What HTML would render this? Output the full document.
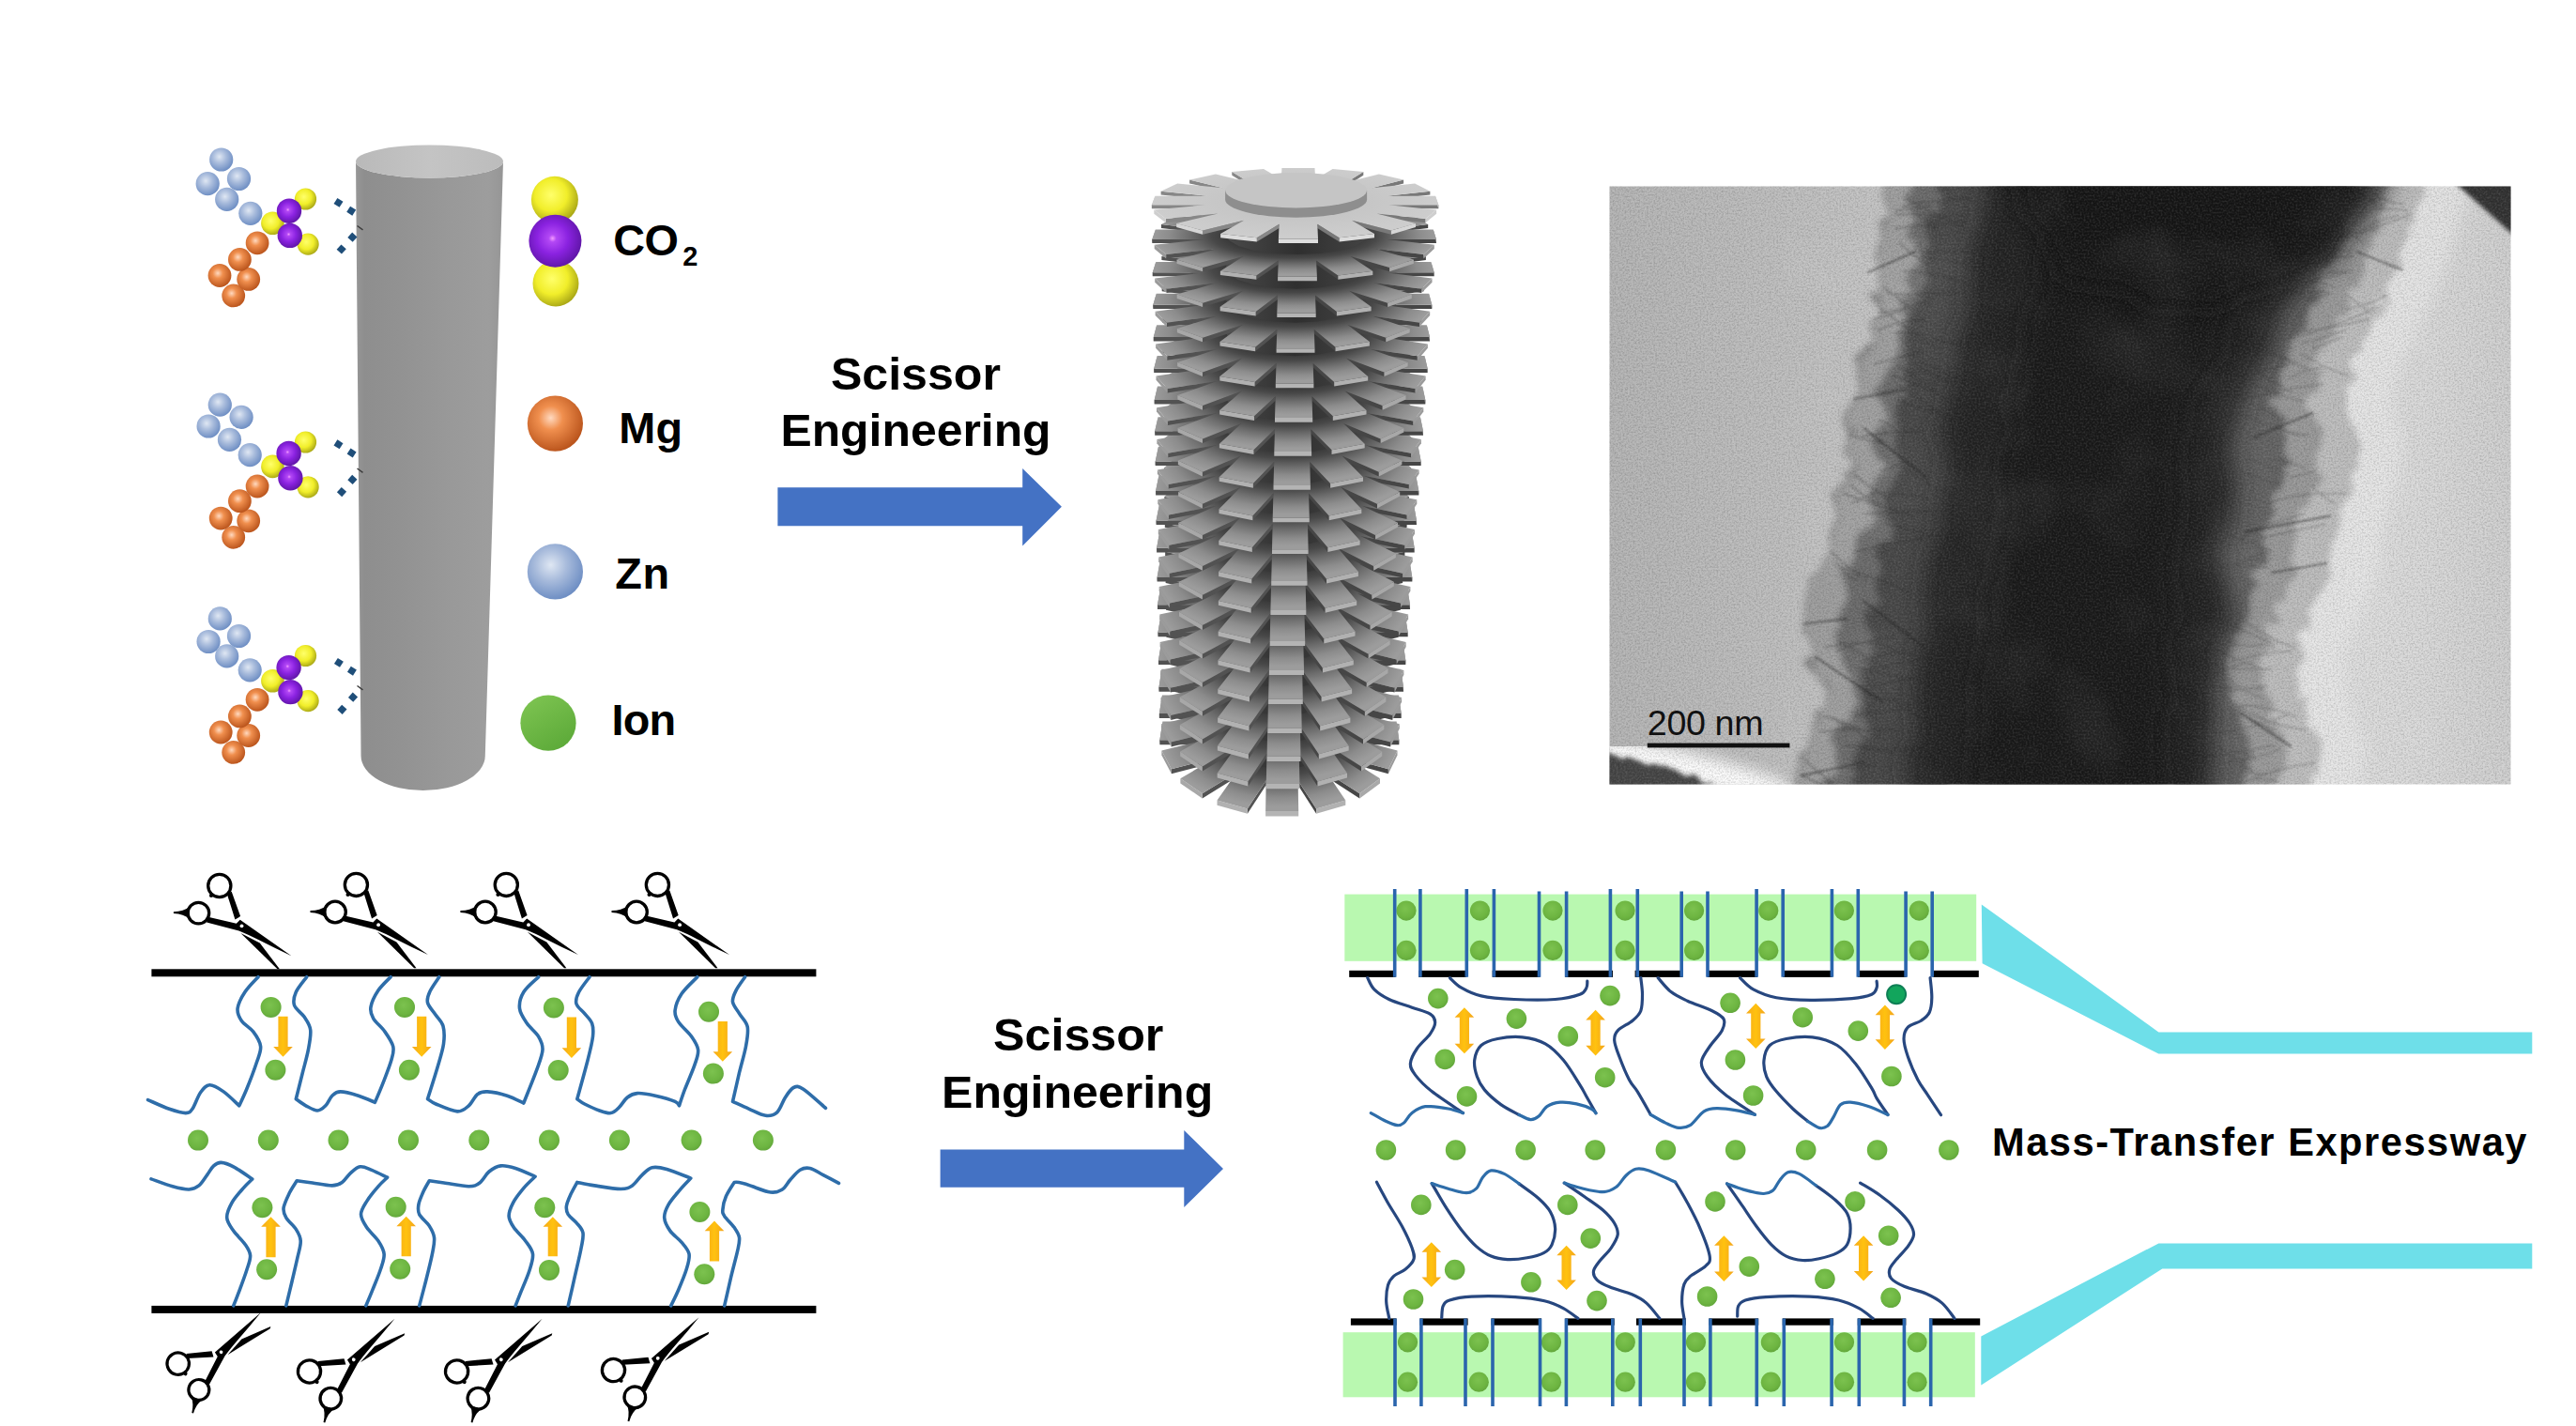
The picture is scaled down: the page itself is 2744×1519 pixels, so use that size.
<!DOCTYPE html>
<html><head><meta charset="utf-8"><title>Scissor Engineering</title>
<style>html,body{margin:0;padding:0;background:#fff}svg{display:block}</style></head>
<body>
<svg width="2744" height="1519" viewBox="0 0 2744 1519">
<defs>
<radialGradient id="gB" cx="0.42" cy="0.38" r="0.62"><stop offset="0" stop-color="#dfe7f3"/><stop offset="0.45" stop-color="#a9bcdc"/><stop offset="1" stop-color="#6f8fc4"/></radialGradient>
<radialGradient id="gO" cx="0.42" cy="0.40" r="0.62"><stop offset="0" stop-color="#ffd9bf"/><stop offset="0.35" stop-color="#f08f4e"/><stop offset="1" stop-color="#b9531b"/></radialGradient>
<radialGradient id="gY" cx="0.42" cy="0.40" r="0.62"><stop offset="0" stop-color="#ffff6a"/><stop offset="0.55" stop-color="#f1ee2a"/><stop offset="1" stop-color="#a9a716"/></radialGradient>
<radialGradient id="gP" cx="0.45" cy="0.45" r="0.6"><stop offset="0" stop-color="#f49bff"/><stop offset="0.12" stop-color="#b348f5"/><stop offset="0.5" stop-color="#8a22e0"/><stop offset="1" stop-color="#5a14a0"/></radialGradient>
<radialGradient id="gG" cx="0.45" cy="0.40" r="0.62"><stop offset="0" stop-color="#7cc24f"/><stop offset="0.7" stop-color="#6db541"/><stop offset="1" stop-color="#62a63b"/></radialGradient>
<linearGradient id="gGL" x1="0" y1="0" x2="0.6" y2="1"><stop offset="0" stop-color="#80c653"/><stop offset="1" stop-color="#5eab3a"/></linearGradient>
<linearGradient id="gAr" x1="0" y1="0" x2="1" y2="0"><stop offset="0" stop-color="#f6a91a"/><stop offset="0.5" stop-color="#ffc20f"/><stop offset="1" stop-color="#f3a31c"/></linearGradient>
<linearGradient id="gCyl" x1="0" y1="0" x2="1" y2="0"><stop offset="0" stop-color="#979797"/><stop offset="0.06" stop-color="#8e8e8e"/><stop offset="0.3" stop-color="#929292"/><stop offset="0.65" stop-color="#999999"/><stop offset="0.9" stop-color="#9d9d9d"/><stop offset="1" stop-color="#969696"/></linearGradient>
<linearGradient id="gCylTop" x1="0" y1="0" x2="1" y2="0"><stop offset="0" stop-color="#b9b9b9"/><stop offset="0.5" stop-color="#c4c4c4"/><stop offset="1" stop-color="#bcbcbc"/></linearGradient>


<radialGradient id="gFin" cx="0.5" cy="0.47" r="0.5"><stop offset="0.40" stop-color="#303030"/><stop offset="0.58" stop-color="#484848"/><stop offset="0.74" stop-color="#6e6e6e"/><stop offset="0.88" stop-color="#8c8c8c"/><stop offset="1" stop-color="#9c9c9c"/></radialGradient>
<radialGradient id="gFinTop" cx="0.5" cy="0.47" r="0.5"><stop offset="0.5" stop-color="#c6c6c6"/><stop offset="1" stop-color="#cdcdcd"/></radialGradient>
<linearGradient id="gCore" x1="0" y1="0" x2="1" y2="0"><stop offset="0" stop-color="#4a4a4a"/><stop offset="0.5" stop-color="#2f2f2f"/><stop offset="1" stop-color="#444"/></linearGradient>


<clipPath id="cTem"><rect x="1714.5" y="198.5" width="960" height="637"/></clipPath>
<linearGradient id="gTemBg" gradientUnits="userSpaceOnUse" x1="1714" y1="0" x2="2675" y2="0"><stop offset="0" stop-color="#b4b4b4"/><stop offset="0.22" stop-color="#bfbfbf"/><stop offset="0.78" stop-color="#dedede"/><stop offset="0.9" stop-color="#d9d9d9"/><stop offset="1" stop-color="#cfcfcf"/></linearGradient>
<filter id="fRough" x="-10%" y="-10%" width="120%" height="120%"><feTurbulence type="fractalNoise" baseFrequency="0.035" numOctaves="3" seed="7" result="n"/><feDisplacementMap in="SourceGraphic" in2="n" scale="34" xChannelSelector="R" yChannelSelector="G"/><feGaussianBlur stdDeviation="3.5"/></filter>
<filter id="fRough2" x="-10%" y="-10%" width="120%" height="120%"><feTurbulence type="fractalNoise" baseFrequency="0.05" numOctaves="3" seed="19" result="n"/><feDisplacementMap in="SourceGraphic" in2="n" scale="30" xChannelSelector="R" yChannelSelector="G"/><feGaussianBlur stdDeviation="3"/></filter>
<filter id="fRough3" x="-10%" y="-30%" width="120%" height="160%"><feTurbulence type="fractalNoise" baseFrequency="0.09" numOctaves="2" seed="2" result="n"/><feDisplacementMap in="SourceGraphic" in2="n" scale="9" xChannelSelector="R" yChannelSelector="G"/><feGaussianBlur stdDeviation="2.4"/></filter>
<filter id="fCore" x="-20%" y="-20%" width="140%" height="140%"><feTurbulence type="fractalNoise" baseFrequency="0.02" numOctaves="2" seed="3" result="n"/><feDisplacementMap in="SourceGraphic" in2="n" scale="40" xChannelSelector="R" yChannelSelector="G"/><feGaussianBlur stdDeviation="13"/></filter>
<filter id="fB8"><feGaussianBlur stdDeviation="8"/></filter>
<filter id="fB3"><feGaussianBlur stdDeviation="2.2"/></filter>
<filter id="fB1"><feGaussianBlur stdDeviation="0.9"/></filter>
<filter id="fGrain" x="0" y="0" width="100%" height="100%"><feTurbulence type="fractalNoise" baseFrequency="0.55" numOctaves="2" seed="11"/><feColorMatrix type="matrix" values="0 0 0 0 0  0 0 0 0 0  0 0 0 0 0  1.6 0 0 0 -0.62"/></filter>
<filter id="fGrainW" x="0" y="0" width="100%" height="100%"><feTurbulence type="fractalNoise" baseFrequency="0.5" numOctaves="2" seed="23"/><feColorMatrix type="matrix" values="0 0 0 0 1  0 0 0 0 1  0 0 0 0 1  0 1.6 0 0 -0.62"/></filter>
<filter id="fMott" x="0" y="0" width="100%" height="100%"><feTurbulence type="fractalNoise" baseFrequency="0.012" numOctaves="3" seed="5"/><feColorMatrix type="matrix" values="0 0 0 0 1  0 0 0 0 1  0 0 0 0 1  1.4 0 0 0 -0.62"/></filter>

<g id="sci" fill="#000"><circle cx="-45.9" cy="-13.7" r="11.3" fill="none" stroke="#000" stroke-width="3.3"/><circle cx="-23.5" cy="-42.8" r="12.1" fill="none" stroke="#000" stroke-width="3.3"/><path d="M-35.6 -9.6L-5.5 -2.6L-1.6 -6.6L53.1 31.9L36 23.7L19 15.2Q6 8.6 -2.8 5.1L-37.2 -3.9Z"/><path d="M-15.6 -34.6L-10.6 -36.6L-1.2 -10.2L-6.9 -6.8Z"/><path d="M-0.9 7.6L19.5 18.3L40.6 46L38.2 46Z"/><path d="M-55.6 -20.2Q-61.5 -15.2 -72.4 -15.1L-72.4 -13.3Q-61.5 -13 -55.6 -7.2Z"/><circle cx="-32.3" cy="-32.3" r="2.1"/><circle cx="0.2" cy="0" r="1.9" fill="#fff"/></g></defs>
<rect width="2744" height="1519" fill="#fff"/>
<path d="M379 172 L384.5 805 A66 37 0 0 0 516.8 805 L536 172 A78.5 17.5 0 0 1 379 172Z" fill="url(#gCyl)"/><ellipse cx="457.5" cy="172" rx="78.5" ry="17.5" fill="url(#gCylTop)"/><path d="M380.5 240.5 l6 4.4" stroke="#3c3c3c" stroke-width="1.4"/><path d="M380.5 499 l6 4.4" stroke="#3c3c3c" stroke-width="1.4"/><path d="M380.5 730.5 l6 4.4" stroke="#3c3c3c" stroke-width="1.4"/>
<circle cx="235.7" cy="170" r="12.6" fill="url(#gB)"/><circle cx="221.2" cy="195.7" r="12.6" fill="url(#gB)"/><circle cx="254.5" cy="190.5" r="12.6" fill="url(#gB)"/><circle cx="241.7" cy="212.4" r="12.6" fill="url(#gB)"/><circle cx="266.8" cy="227.3" r="12.6" fill="url(#gB)"/><circle cx="248.7" cy="314.9" r="12.4" fill="url(#gO)"/><circle cx="264.7" cy="297.4" r="12.4" fill="url(#gO)"/><circle cx="234" cy="293.5" r="12.4" fill="url(#gO)"/><circle cx="255.4" cy="276.4" r="12.4" fill="url(#gO)"/><circle cx="274.1" cy="258.8" r="12.4" fill="url(#gO)"/><circle cx="290.4" cy="237.8" r="12.3" fill="url(#gY)"/><circle cx="325.5" cy="212" r="11.6" fill="url(#gY)"/><circle cx="328.1" cy="260.1" r="11.6" fill="url(#gY)"/><circle cx="308" cy="224.7" r="13.2" fill="url(#gP)"/><circle cx="308.8" cy="250.9" r="13.2" fill="url(#gP)"/><rect x="-3.6" y="-3.6" width="7.2" height="7.2" fill="#1f4e79" transform="translate(360.5 215.9) rotate(32.7)"/><rect x="-3.6" y="-3.6" width="7.2" height="7.2" fill="#1f4e79" transform="translate(374.2 224.7) rotate(32.7)"/><rect x="-3.6" y="-3.6" width="7.2" height="7.2" fill="#1f4e79" transform="translate(375.4 252.7) rotate(-47.6)"/><rect x="-3.6" y="-3.6" width="7.2" height="7.2" fill="#1f4e79" transform="translate(363.7 265.5) rotate(-47.6)"/>
<circle cx="234.3" cy="431.2" r="12.6" fill="url(#gB)"/><circle cx="222.1" cy="454" r="12.6" fill="url(#gB)"/><circle cx="257.1" cy="444.3" r="12.6" fill="url(#gB)"/><circle cx="244.5" cy="468.4" r="12.6" fill="url(#gB)"/><circle cx="266.2" cy="484.7" r="12.6" fill="url(#gB)"/><circle cx="248.7" cy="572.3" r="12.4" fill="url(#gO)"/><circle cx="264.7" cy="554.8" r="12.4" fill="url(#gO)"/><circle cx="235.2" cy="552.1" r="12.4" fill="url(#gO)"/><circle cx="255.4" cy="533.7" r="12.4" fill="url(#gO)"/><circle cx="274.1" cy="518" r="12.4" fill="url(#gO)"/><circle cx="290.4" cy="496.9" r="12.3" fill="url(#gY)"/><circle cx="325.5" cy="471" r="11.6" fill="url(#gY)"/><circle cx="328.1" cy="518.8" r="11.6" fill="url(#gY)"/><circle cx="307.6" cy="482.9" r="13.2" fill="url(#gP)"/><circle cx="309.4" cy="509.2" r="13.2" fill="url(#gP)"/><rect x="-3.6" y="-3.6" width="7.2" height="7.2" fill="#1f4e79" transform="translate(360.5 473.3) rotate(32.7)"/><rect x="-3.6" y="-3.6" width="7.2" height="7.2" fill="#1f4e79" transform="translate(374.6 482.5) rotate(32.7)"/><rect x="-3.6" y="-3.6" width="7.2" height="7.2" fill="#1f4e79" transform="translate(375.4 510.9) rotate(-47.6)"/><rect x="-3.6" y="-3.6" width="7.2" height="7.2" fill="#1f4e79" transform="translate(364 524.1) rotate(-47.6)"/>
<circle cx="234.3" cy="658.9" r="12.6" fill="url(#gB)"/><circle cx="222.1" cy="683.5" r="12.6" fill="url(#gB)"/><circle cx="254.5" cy="677.5" r="12.6" fill="url(#gB)"/><circle cx="241.7" cy="698.9" r="12.6" fill="url(#gB)"/><circle cx="266.2" cy="713.8" r="12.6" fill="url(#gB)"/><circle cx="248.7" cy="801.4" r="12.4" fill="url(#gO)"/><circle cx="264.7" cy="783.5" r="12.4" fill="url(#gO)"/><circle cx="235.2" cy="780" r="12.4" fill="url(#gO)"/><circle cx="255.4" cy="762.9" r="12.4" fill="url(#gO)"/><circle cx="274.1" cy="745.3" r="12.4" fill="url(#gO)"/><circle cx="290.4" cy="725.2" r="12.3" fill="url(#gY)"/><circle cx="325.5" cy="698.5" r="11.6" fill="url(#gY)"/><circle cx="328.1" cy="746.6" r="11.6" fill="url(#gY)"/><circle cx="307.6" cy="711.1" r="13.2" fill="url(#gP)"/><circle cx="309.4" cy="737.1" r="13.2" fill="url(#gP)"/><rect x="-3.6" y="-3.6" width="7.2" height="7.2" fill="#1f4e79" transform="translate(360.9 705.9) rotate(32.7)"/><rect x="-3.6" y="-3.6" width="7.2" height="7.2" fill="#1f4e79" transform="translate(374.9 714.7) rotate(32.7)"/><rect x="-3.6" y="-3.6" width="7.2" height="7.2" fill="#1f4e79" transform="translate(376 742.7) rotate(-47.6)"/><rect x="-3.6" y="-3.6" width="7.2" height="7.2" fill="#1f4e79" transform="translate(364.4 755.8) rotate(-47.6)"/>
<circle cx="590.9" cy="212.8" r="25" fill="url(#gY)"/><circle cx="592" cy="301.9" r="24.5" fill="url(#gY)"/><circle cx="591.4" cy="256.7" r="28" fill="url(#gP)"/><circle cx="591.4" cy="451.1" r="29.6" fill="url(#gO)"/><circle cx="591.4" cy="608.9" r="29.6" fill="url(#gB)"/><circle cx="584" cy="770.2" r="29.6" fill="url(#gGL)"/>
<text x="653.3" y="271.8" font-size="46.8" text-anchor="start" font-family="Liberation Sans, sans-serif" font-weight="bold" fill="#000" textLength="69.6" lengthAdjust="spacing" >CO</text>
<text x="727.3" y="283.3" font-size="29" text-anchor="start" font-family="Liberation Sans, sans-serif" font-weight="bold" fill="#000" textLength="16.4" lengthAdjust="spacing" >2</text>
<text x="659.2" y="471.9" font-size="46.8" text-anchor="start" font-family="Liberation Sans, sans-serif" font-weight="bold" fill="#000" textLength="67.8" lengthAdjust="spacing" >Mg</text>
<text x="655.2" y="626.7" font-size="46.8" text-anchor="start" font-family="Liberation Sans, sans-serif" font-weight="bold" fill="#000" textLength="57.8" lengthAdjust="spacing" >Zn</text>
<text x="651.5" y="783.3" font-size="46.8" text-anchor="start" font-family="Liberation Sans, sans-serif" font-weight="bold" fill="#000" textLength="68.5" lengthAdjust="spacing" >Ion</text>
<text x="884.9" y="414.9" font-size="48.3" text-anchor="start" font-family="Liberation Sans, sans-serif" font-weight="bold" fill="#000" textLength="181" lengthAdjust="spacingAndGlyphs" >Scissor</text>
<text x="831.4" y="475.3" font-size="48.3" text-anchor="start" font-family="Liberation Sans, sans-serif" font-weight="bold" fill="#000" textLength="288.2" lengthAdjust="spacingAndGlyphs" >Engineering</text>
<path d="M828.4 519.2H1089.2V499L1130.9 539.8L1089.2 581.4V560.3H828.4Z" fill="#4472c4"/>
<text x="1058.1" y="1118.7" font-size="48.3" text-anchor="start" font-family="Liberation Sans, sans-serif" font-weight="bold" fill="#000" textLength="181.3" lengthAdjust="spacingAndGlyphs" >Scissor</text>
<text x="1003.1" y="1180.1" font-size="48.3" text-anchor="start" font-family="Liberation Sans, sans-serif" font-weight="bold" fill="#000" textLength="289.1" lengthAdjust="spacingAndGlyphs" >Engineering</text>
<path d="M1001.6 1224.4H1261.3V1204.1L1303 1244.9L1261.3 1286.1V1264.7H1001.6Z" fill="#4472c4"/>
<text x="2122" y="1230.7" font-size="41.6" text-anchor="start" font-family="Liberation Sans, sans-serif" font-weight="bold" fill="#000" textLength="569.5" lengthAdjust="spacing" >Mass-Transfer Expressway</text>
<path d="M1321.9,737.9 1306.7,714.9 1306.7,719.3 1321.9,742.5Z" fill="#525252"/><path d="M1408.8,737.9 1423.5,714.9 1423.5,719.3 1408.8,742.5Z" fill="#464646"/><path d="M1298.9,750.9 1269,732.6 1269,737.1 1298.9,755.5Z" fill="#525252"/><path d="M1431,750.9 1459.2,732.6 1459.2,737.1 1431,755.5Z" fill="#464646"/><path d="M1285.1,768.5 1243.5,758 1243.5,762.7 1285.1,773.2Z" fill="#525252"/><path d="M1444.1,768.5 1482.9,758 1482.9,762.7 1444.1,773.2Z" fill="#464646"/><path d="M1238.4,768.5 1235.4,788.3 1235.4,793.2 1238.4,773.2Z" fill="#8c8c8c"/><path d="M1283.2,788.3 1235.4,788.3 1235.4,793.2 1283.2,793.2Z" fill="#525252"/><path d="M1445.9,788.3 1490.3,788.3 1490.3,793.2 1445.9,793.2Z" fill="#464646"/><path d="M1490.3,788.3 1487.6,768.5 1487.6,773.2 1490.3,793.2Z" fill="#8c8c8c"/><path d="M1435.3,807.5 1478.9,819.2 1478.9,824.2 1435.3,812.4Z" fill="#464646"/><path d="M1294.3,807.5 1247.9,819.2 1247.9,824.2 1294.3,812.4Z" fill="#525252"/><path d="M1478.9,819.2 1488.5,799.5 1488.5,804.4 1478.9,824.2Z" fill="#9b9b9b"/><path d="M1237.4,799.5 1247.9,819.2 1247.9,824.2 1237.4,804.4Z" fill="#9b9b9b"/><path d="M1317.4,822.7 1280.7,845.3 1280.7,850.5 1317.4,827.8Z" fill="#525252"/><path d="M1413.2,822.7 1448.3,845.3 1448.3,850.5 1413.2,827.8Z" fill="#464646"/><path d="M1257.4,829.3 1280.7,845.3 1280.7,850.5 1257.4,834.4Z" fill="#a8a8a8"/><path d="M1448.3,845.3 1470,829.3 1470,834.4 1448.3,850.5Z" fill="#a8a8a8"/><path d="M1348.7,831.2 1328.8,861.5 1328.8,866.8 1348.7,836.3Z" fill="#525252"/><path d="M1382.6,831.2 1402.1,861.5 1402.1,866.8 1382.6,836.3Z" fill="#464646"/><path d="M1296.5,852.5 1328.8,861.5 1328.8,866.8 1296.5,857.7Z" fill="#b1b1b1"/><path d="M1402.1,861.5 1433.3,852.5 1433.3,857.7 1402.1,866.8Z" fill="#b1b1b1"/><path d="M1348.1,864.1 1383.2,864.1 1383.2,869.4 1348.1,869.4Z" fill="#b4b4b4"/><path d="M1348.1,864.1 1383.2,864.1 1382.6,831.2 1402.1,861.5 1433.3,852.5 1413.2,822.7 1448.3,845.3 1470,829.3 1435.3,807.5 1478.9,819.2 1488.5,799.5 1445.9,788.3 1490.3,788.3 1487.6,768.5 1444.1,768.5 1482.9,758 1469.3,740.9 1431,750.9 1459.2,732.6 1437.4,720.2 1408.8,737.9 1423.5,714.9 1396.3,708.4 1380.8,731.1 1380.3,706.6 1351,706.6 1350.5,731.1 1334.8,708.4 1306.7,714.9 1321.9,737.9 1292.2,720.2 1269,732.6 1298.9,750.9 1258.2,740.9 1243.5,758 1285.1,768.5 1238.4,768.5 1235.4,788.3 1283.2,788.3 1237.4,799.5 1247.9,819.2 1294.3,807.5 1257.4,829.3 1280.7,845.3 1317.4,822.7 1296.5,852.5 1328.8,861.5 1348.7,831.2Z" fill="url(#gFin)"/><path d="M1428,778.3 1425.8,790.5 1417.6,801.8 1403.9,811.1 1386,817.1 1365.7,819.2 1345.3,817.1 1327,811.1 1312.9,801.8 1304.3,790.5 1302,778.3 1302.3,755 1304.6,767.1 1313.2,778.4 1327.5,787.5 1346,793.5 1366.7,795.6 1387.2,793.5 1405.3,787.5 1419.1,778.4 1427.4,767.1 1429.7,755Z" fill="url(#gCore)"/><path d="M1322.4,710.4 1307,687.7 1307,692.1 1322.4,714.9Z" fill="#525252"/><path d="M1410.3,710.4 1425.1,687.7 1425.1,692.1 1410.3,714.9Z" fill="#464646"/><path d="M1299.1,723.2 1268.9,705.1 1268.9,709.6 1299.1,727.8Z" fill="#525252"/><path d="M1432.7,723.2 1461.2,705.1 1461.2,709.6 1432.7,727.8Z" fill="#464646"/><path d="M1285.1,740.5 1243.1,730.2 1243.1,734.9 1285.1,745.2Z" fill="#525252"/><path d="M1446,740.5 1485.1,730.2 1485.1,734.9 1446,745.2Z" fill="#464646"/><path d="M1238,740.5 1234.9,760.1 1234.9,764.9 1238,745.2Z" fill="#8c8c8c"/><path d="M1283.2,760.1 1234.9,760.1 1234.9,764.9 1283.2,764.9Z" fill="#525252"/><path d="M1447.8,760.1 1492.7,760.1 1492.7,764.9 1447.8,764.9Z" fill="#464646"/><path d="M1492.7,760.1 1489.9,740.5 1489.9,745.2 1492.7,764.9Z" fill="#8c8c8c"/><path d="M1437.1,779 1481.1,790.6 1481.1,795.6 1437.1,784Z" fill="#464646"/><path d="M1294.5,779 1247.6,790.6 1247.6,795.6 1294.5,784Z" fill="#525252"/><path d="M1481.1,790.6 1490.8,771.2 1490.8,776 1481.1,795.6Z" fill="#9b9b9b"/><path d="M1237,771.2 1247.6,790.6 1247.6,795.6 1237,776Z" fill="#9b9b9b"/><path d="M1317.8,794.1 1280.7,816.4 1280.7,821.5 1317.8,799.1Z" fill="#525252"/><path d="M1414.7,794.1 1450.1,816.4 1450.1,821.5 1414.7,799.1Z" fill="#464646"/><path d="M1257.2,800.6 1280.7,816.4 1280.7,821.5 1257.2,805.6Z" fill="#a8a8a8"/><path d="M1450.1,816.4 1472.2,800.6 1472.2,805.6 1450.1,821.5Z" fill="#a8a8a8"/><path d="M1349.4,802.4 1329.4,832.4 1329.4,837.6 1349.4,807.5Z" fill="#525252"/><path d="M1383.8,802.4 1403.5,832.4 1403.5,837.6 1383.8,807.5Z" fill="#464646"/><path d="M1296.7,823.5 1329.4,832.4 1329.4,837.6 1296.7,828.6Z" fill="#b1b1b1"/><path d="M1403.5,832.4 1435,823.5 1435,828.6 1403.5,837.6Z" fill="#b1b1b1"/><path d="M1348.8,834.9 1384.4,834.9 1384.4,840.2 1348.8,840.2Z" fill="#b4b4b4"/><path d="M1348.8,834.9 1384.4,834.9 1383.8,802.4 1403.5,832.4 1435,823.5 1414.7,794.1 1450.1,816.4 1472.2,800.6 1437.1,779 1481.1,790.6 1490.8,771.2 1447.8,760.1 1492.7,760.1 1489.9,740.5 1446,740.5 1485.1,730.2 1471.4,713.3 1432.7,723.2 1461.2,705.1 1439.1,692.9 1410.3,710.4 1425.1,687.7 1397.6,681.3 1381.9,703.7 1381.5,679.5 1351.8,679.5 1351.3,703.7 1335.4,681.3 1307,687.7 1322.4,710.4 1292.4,692.9 1268.9,705.1 1299.1,723.2 1258,713.3 1243.1,730.2 1285.1,740.5 1238,740.5 1234.9,760.1 1283.2,760.1 1237,771.2 1247.6,790.6 1294.5,779 1257.2,800.6 1280.7,816.4 1317.8,794.1 1296.7,823.5 1329.4,832.4 1349.4,802.4Z" fill="url(#gFin)"/><path d="M1429.7,750.2 1427.4,762.3 1419.1,773.5 1405.3,782.6 1387.2,788.5 1366.7,790.6 1346,788.5 1327.5,782.6 1313.2,773.5 1304.6,762.3 1302.3,750.2 1302.5,727 1304.9,739 1313.6,750.1 1328.1,759.1 1346.8,765 1367.6,767 1388.3,765 1406.6,759.1 1420.6,750.1 1429.1,739 1431.3,727Z" fill="url(#gCore)"/><path d="M1322.9,683.1 1307.3,660.7 1307.3,665 1322.9,687.6Z" fill="#525252"/><path d="M1411.7,683.1 1426.7,660.7 1426.7,665 1411.7,687.6Z" fill="#464646"/><path d="M1299.3,695.7 1268.8,677.9 1268.8,682.3 1299.3,700.2Z" fill="#525252"/><path d="M1434.3,695.7 1463.2,677.9 1463.2,682.3 1434.3,700.2Z" fill="#464646"/><path d="M1285.2,712.8 1242.8,702.6 1242.8,707.2 1285.2,717.4Z" fill="#525252"/><path d="M1447.8,712.8 1487.4,702.6 1487.4,707.2 1447.8,717.4Z" fill="#464646"/><path d="M1237.5,712.8 1234.5,732.1 1234.5,736.8 1237.5,717.4Z" fill="#8c8c8c"/><path d="M1283.3,732.1 1234.5,732.1 1234.5,736.8 1283.3,736.8Z" fill="#525252"/><path d="M1449.6,732.1 1495,732.1 1495,736.8 1449.6,736.8Z" fill="#464646"/><path d="M1495,732.1 1492.2,712.8 1492.2,717.4 1495,736.8Z" fill="#8c8c8c"/><path d="M1438.8,750.7 1483.3,762.1 1483.3,767 1438.8,755.6Z" fill="#464646"/><path d="M1294.7,750.7 1247.2,762.1 1247.2,767 1294.7,755.6Z" fill="#525252"/><path d="M1483.3,762.1 1493.1,743 1493.1,747.8 1483.3,767Z" fill="#9b9b9b"/><path d="M1236.5,743 1247.2,762.1 1247.2,767 1236.5,747.8Z" fill="#9b9b9b"/><path d="M1318.3,765.5 1280.7,787.5 1280.7,792.6 1318.3,770.5Z" fill="#525252"/><path d="M1416.2,765.5 1452,787.5 1452,792.6 1416.2,770.5Z" fill="#464646"/><path d="M1256.9,772 1280.7,787.5 1280.7,792.6 1256.9,776.9Z" fill="#a8a8a8"/><path d="M1452,787.5 1474.3,772 1474.3,776.9 1452,792.6Z" fill="#a8a8a8"/><path d="M1350.2,773.8 1329.9,803.3 1329.9,808.4 1350.2,778.8Z" fill="#525252"/><path d="M1384.9,773.8 1404.8,803.3 1404.8,808.4 1384.9,778.8Z" fill="#464646"/><path d="M1296.9,794.5 1329.9,803.3 1329.9,808.4 1296.9,799.6Z" fill="#b1b1b1"/><path d="M1404.8,803.3 1436.7,794.5 1436.7,799.6 1404.8,808.4Z" fill="#b1b1b1"/><path d="M1349.6,805.8 1385.5,805.8 1385.5,811 1349.6,811Z" fill="#b4b4b4"/><path d="M1349.6,805.8 1385.5,805.8 1384.9,773.8 1404.8,803.3 1436.7,794.5 1416.2,765.5 1452,787.5 1474.3,772 1438.8,750.7 1483.3,762.1 1493.1,743 1449.6,732.1 1495,732.1 1492.2,712.8 1447.8,712.8 1487.4,702.6 1473.5,685.9 1434.3,695.7 1463.2,677.9 1440.9,665.8 1411.7,683.1 1426.7,660.7 1398.9,654.4 1383,676.4 1382.6,652.6 1352.6,652.6 1352.1,676.4 1336,654.4 1307.3,660.7 1322.9,683.1 1292.5,665.8 1268.8,677.9 1299.3,695.7 1257.8,685.9 1242.8,702.6 1285.2,712.8 1237.5,712.8 1234.5,732.1 1283.3,732.1 1236.5,743 1247.2,762.1 1294.7,750.7 1256.9,772 1280.7,787.5 1318.3,765.5 1296.9,794.5 1329.9,803.3 1350.2,773.8Z" fill="url(#gFin)"/><path d="M1431.3,722.3 1429.1,734.2 1420.6,745.2 1406.6,754.2 1388.3,760 1367.6,762.1 1346.8,760 1328.1,754.2 1313.6,745.2 1304.9,734.2 1302.5,722.3 1302.8,698.3 1305.1,710.1 1314,721 1328.6,729.8 1347.5,735.6 1368.6,737.6 1389.5,735.6 1408,729.8 1422.2,721 1430.7,710.1 1433,698.3Z" fill="url(#gCore)"/><path d="M1323.4,655.1 1307.6,633 1307.6,637.3 1323.4,659.5Z" fill="#525252"/><path d="M1413.1,655.1 1428.3,633 1428.3,637.3 1413.1,659.5Z" fill="#464646"/><path d="M1299.6,667.5 1268.7,649.9 1268.7,654.4 1299.6,672Z" fill="#525252"/><path d="M1436,667.5 1465.2,649.9 1465.2,654.4 1436,672Z" fill="#464646"/><path d="M1285.3,684.2 1242.4,674.3 1242.4,678.8 1285.3,688.9Z" fill="#525252"/><path d="M1449.6,684.2 1489.6,674.3 1489.6,678.8 1449.6,688.9Z" fill="#464646"/><path d="M1237.1,684.2 1234,703.2 1234,707.9 1237.1,688.9Z" fill="#8c8c8c"/><path d="M1283.3,703.2 1234,703.2 1234,707.9 1283.3,707.9Z" fill="#525252"/><path d="M1451.5,703.2 1497.3,703.2 1497.3,707.9 1451.5,707.9Z" fill="#464646"/><path d="M1497.3,703.2 1494.5,684.2 1494.5,688.9 1497.3,707.9Z" fill="#8c8c8c"/><path d="M1440.5,721.6 1485.5,732.7 1485.5,737.6 1440.5,726.4Z" fill="#464646"/><path d="M1294.9,721.6 1246.9,732.7 1246.9,737.6 1294.9,726.4Z" fill="#525252"/><path d="M1485.5,732.7 1495.4,713.9 1495.4,718.7 1485.5,737.6Z" fill="#9b9b9b"/><path d="M1236.1,713.9 1246.9,732.7 1246.9,737.6 1236.1,718.7Z" fill="#9b9b9b"/><path d="M1318.7,736.1 1280.8,757.8 1280.8,762.8 1318.7,741Z" fill="#525252"/><path d="M1417.7,736.1 1453.9,757.8 1453.9,762.8 1417.7,741Z" fill="#464646"/><path d="M1256.7,742.5 1280.8,757.8 1280.8,762.8 1256.7,747.4Z" fill="#a8a8a8"/><path d="M1453.9,757.8 1476.4,742.5 1476.4,747.4 1453.9,762.8Z" fill="#a8a8a8"/><path d="M1351,744.2 1330.5,773.3 1330.5,778.4 1351,749.2Z" fill="#525252"/><path d="M1386.1,744.2 1406.2,773.3 1406.2,778.4 1386.1,749.2Z" fill="#464646"/><path d="M1297.1,764.6 1330.5,773.3 1330.5,778.4 1297.1,769.7Z" fill="#b1b1b1"/><path d="M1406.2,773.3 1438.4,764.6 1438.4,769.7 1406.2,778.4Z" fill="#b1b1b1"/><path d="M1350.4,775.7 1386.7,775.7 1386.7,780.9 1350.4,780.9Z" fill="#b4b4b4"/><path d="M1350.4,775.7 1386.7,775.7 1386.1,744.2 1406.2,773.3 1438.4,764.6 1417.7,736.1 1453.9,757.8 1476.4,742.5 1440.5,721.6 1485.5,732.7 1495.4,713.9 1451.5,703.2 1497.3,703.2 1494.5,684.2 1449.6,684.2 1489.6,674.3 1475.6,657.9 1436,667.5 1465.2,649.9 1442.6,638.1 1413.1,655.1 1428.3,633 1400.2,626.8 1384.2,648.5 1383.7,625.1 1353.4,625.1 1352.9,648.5 1336.7,626.8 1307.6,633 1323.4,655.1 1292.7,638.1 1268.7,649.9 1299.6,667.5 1257.5,657.9 1242.4,674.3 1285.3,684.2 1237.1,684.2 1234,703.2 1283.3,703.2 1236.1,713.9 1246.9,732.7 1294.9,721.6 1256.7,742.5 1280.8,757.8 1318.7,736.1 1297.1,764.6 1330.5,773.3 1351,744.2Z" fill="url(#gFin)"/><path d="M1433,693.6 1430.7,705.3 1422.2,716.2 1408,725 1389.5,730.7 1368.6,732.7 1347.5,730.7 1328.6,725 1314,716.2 1305.1,705.3 1302.8,693.6 1303,668.8 1305.4,680.4 1314.4,691.1 1329.2,699.8 1348.2,705.5 1369.5,707.4 1390.7,705.5 1409.4,699.8 1423.7,691.1 1432.3,680.4 1434.6,668.8Z" fill="url(#gCore)"/><path d="M1323.8,626.4 1307.9,604.7 1307.9,609 1323.8,630.8Z" fill="#525252"/><path d="M1414.6,626.4 1429.9,604.7 1429.9,609 1414.6,630.8Z" fill="#464646"/><path d="M1299.8,638.5 1268.6,621.3 1268.6,625.7 1299.8,643Z" fill="#525252"/><path d="M1437.7,638.5 1467.2,621.3 1467.2,625.7 1437.7,643Z" fill="#464646"/><path d="M1285.3,655 1242,645.2 1242,649.7 1285.3,659.6Z" fill="#525252"/><path d="M1451.4,655 1491.9,645.2 1491.9,649.7 1451.4,659.6Z" fill="#464646"/><path d="M1236.6,655 1233.5,673.6 1233.5,678.3 1236.6,659.6Z" fill="#8c8c8c"/><path d="M1283.4,673.6 1233.5,673.6 1233.5,678.3 1283.4,678.3Z" fill="#525252"/><path d="M1453.3,673.6 1499.7,673.6 1499.7,678.3 1453.3,678.3Z" fill="#464646"/><path d="M1499.7,673.6 1496.8,655 1496.8,659.6 1499.7,678.3Z" fill="#8c8c8c"/><path d="M1442.2,691.6 1487.7,702.6 1487.7,707.4 1442.2,696.4Z" fill="#464646"/><path d="M1295,691.6 1246.5,702.6 1246.5,707.4 1295,696.4Z" fill="#525252"/><path d="M1487.7,702.6 1497.7,684.1 1497.7,688.9 1487.7,707.4Z" fill="#9b9b9b"/><path d="M1235.6,684.1 1246.5,702.6 1246.5,707.4 1235.6,688.9Z" fill="#9b9b9b"/><path d="M1319.1,705.9 1280.8,727.1 1280.8,732.1 1319.1,710.8Z" fill="#525252"/><path d="M1419.1,705.9 1455.7,727.1 1455.7,732.1 1419.1,710.8Z" fill="#464646"/><path d="M1256.5,712.1 1280.8,727.1 1280.8,732.1 1256.5,717Z" fill="#a8a8a8"/><path d="M1455.7,727.1 1478.5,712.1 1478.5,717 1455.7,732.1Z" fill="#a8a8a8"/><path d="M1351.8,713.9 1331,742.3 1331,747.4 1351.8,718.8Z" fill="#525252"/><path d="M1387.2,713.9 1407.6,742.3 1407.6,747.4 1387.2,718.8Z" fill="#464646"/><path d="M1297.3,733.9 1331,742.3 1331,747.4 1297.3,738.9Z" fill="#b1b1b1"/><path d="M1407.6,742.3 1440.1,733.9 1440.1,738.9 1407.6,747.4Z" fill="#b1b1b1"/><path d="M1351.1,744.8 1387.8,744.8 1387.8,749.9 1351.1,749.9Z" fill="#b4b4b4"/><path d="M1351.1,744.8 1387.8,744.8 1387.2,713.9 1407.6,742.3 1440.1,733.9 1419.1,705.9 1455.7,727.1 1478.5,712.1 1442.2,691.6 1487.7,702.6 1497.7,684.1 1453.3,673.6 1499.7,673.6 1496.8,655 1451.4,655 1491.9,645.2 1477.7,629.1 1437.7,638.5 1467.2,621.3 1444.4,609.7 1414.6,626.4 1429.9,604.7 1401.5,598.6 1385.3,619.9 1384.8,596.9 1354.2,596.9 1353.7,619.9 1337.3,598.6 1307.9,604.7 1323.8,626.4 1292.8,609.7 1268.6,621.3 1299.8,638.5 1257.3,629.1 1242,645.2 1285.3,655 1236.6,655 1233.5,673.6 1283.4,673.6 1235.6,684.1 1246.5,702.6 1295,691.6 1256.5,712.1 1280.8,727.1 1319.1,705.9 1297.3,733.9 1331,742.3 1351.8,713.9Z" fill="url(#gFin)"/><path d="M1434.6,664.2 1432.3,675.7 1423.7,686.3 1409.4,695 1390.7,700.6 1369.5,702.6 1348.2,700.6 1329.2,695 1314.4,686.3 1305.4,675.7 1303,664.2 1303.3,639.6 1305.7,650.9 1314.8,661.4 1329.7,669.9 1349,675.5 1370.5,677.4 1391.9,675.5 1410.8,669.9 1425.2,661.4 1433.9,650.9 1436.2,639.6Z" fill="url(#gCore)"/><path d="M1324.3,598 1308.3,576.8 1308.3,581 1324.3,602.3Z" fill="#525252"/><path d="M1416,598 1431.5,576.8 1431.5,581 1416,602.3Z" fill="#464646"/><path d="M1300,609.9 1268.5,593 1268.5,597.4 1300,614.3Z" fill="#525252"/><path d="M1439.4,609.9 1469.2,593 1469.2,597.4 1439.4,614.3Z" fill="#464646"/><path d="M1285.4,626 1241.6,616.4 1241.6,620.9 1285.4,630.5Z" fill="#525252"/><path d="M1453.3,626 1494.1,616.4 1494.1,620.9 1453.3,630.5Z" fill="#464646"/><path d="M1236.2,626 1233,644.3 1233,648.9 1236.2,630.5Z" fill="#8c8c8c"/><path d="M1283.4,644.3 1233,644.3 1233,648.9 1283.4,648.9Z" fill="#525252"/><path d="M1455.1,644.3 1502,644.3 1502,648.9 1455.1,648.9Z" fill="#464646"/><path d="M1502,644.3 1499.1,626 1499.1,630.5 1502,648.9Z" fill="#8c8c8c"/><path d="M1444,661.9 1489.9,672.6 1489.9,677.4 1444,666.6Z" fill="#464646"/><path d="M1295.2,661.9 1246.2,672.6 1246.2,677.4 1295.2,666.6Z" fill="#525252"/><path d="M1489.9,672.6 1500.1,654.5 1500.1,659.2 1489.9,677.4Z" fill="#9b9b9b"/><path d="M1235.2,654.5 1246.2,672.6 1246.2,677.4 1235.2,659.2Z" fill="#9b9b9b"/><path d="M1319.5,675.9 1280.8,696.7 1280.8,701.6 1319.5,680.7Z" fill="#525252"/><path d="M1420.6,675.9 1457.6,696.7 1457.6,701.6 1420.6,680.7Z" fill="#464646"/><path d="M1256.2,682 1280.8,696.7 1280.8,701.6 1256.2,686.8Z" fill="#a8a8a8"/><path d="M1457.6,696.7 1480.6,682 1480.6,686.8 1457.6,701.6Z" fill="#a8a8a8"/><path d="M1352.5,683.7 1331.6,711.5 1331.6,716.6 1352.5,688.5Z" fill="#525252"/><path d="M1388.4,683.7 1408.9,711.5 1408.9,716.6 1388.4,688.5Z" fill="#464646"/><path d="M1297.5,703.2 1331.6,711.5 1331.6,716.6 1297.5,708.2Z" fill="#b1b1b1"/><path d="M1408.9,711.5 1441.8,703.2 1441.8,708.2 1408.9,716.6Z" fill="#b1b1b1"/><path d="M1351.9,713.9 1389,713.9 1389,719 1351.9,719Z" fill="#b4b4b4"/><path d="M1351.9,713.9 1389,713.9 1388.4,683.7 1408.9,711.5 1441.8,703.2 1420.6,675.9 1457.6,696.7 1480.6,682 1444,661.9 1489.9,672.6 1500.1,654.5 1455.1,644.3 1502,644.3 1499.1,626 1453.3,626 1494.1,616.4 1479.8,600.7 1439.4,609.9 1469.2,593 1446.1,581.6 1416,598 1431.5,576.8 1402.8,570.8 1386.4,591.7 1386,569.2 1355,569.2 1354.5,591.7 1337.9,570.8 1308.3,576.8 1324.3,598 1293,581.6 1268.5,593 1300,609.9 1257.1,600.7 1241.6,616.4 1285.4,626 1236.2,626 1233,644.3 1283.4,644.3 1235.2,654.5 1246.2,672.6 1295.2,661.9 1256.2,682 1280.8,696.7 1319.5,675.9 1297.5,703.2 1331.6,711.5 1352.5,683.7Z" fill="url(#gFin)"/><path d="M1436.2,635 1433.9,646.3 1425.2,656.7 1410.8,665.2 1391.9,670.7 1370.5,672.6 1349,670.7 1329.7,665.2 1314.8,656.7 1305.7,646.3 1303.3,635 1303.6,610.5 1306,621.5 1315.1,631.7 1330.2,640.1 1349.7,645.5 1371.5,647.4 1393.1,645.5 1412.2,640.1 1426.8,631.7 1435.6,621.5 1437.9,610.5Z" fill="url(#gCore)"/><path d="M1324.8,569.7 1308.6,549 1308.6,553.2 1324.8,574.1Z" fill="#525252"/><path d="M1417.4,569.7 1433.1,549 1433.1,553.2 1417.4,574.1Z" fill="#464646"/><path d="M1300.2,581.4 1268.4,564.9 1268.4,569.2 1300.2,585.8Z" fill="#525252"/><path d="M1441.1,581.4 1471.2,564.9 1471.2,569.2 1441.1,585.8Z" fill="#464646"/><path d="M1285.5,597.1 1241.2,587.7 1241.2,592.2 1285.5,601.6Z" fill="#525252"/><path d="M1455.1,597.1 1496.4,587.7 1496.4,592.2 1455.1,601.6Z" fill="#464646"/><path d="M1235.8,597.1 1232.6,614.9 1232.6,619.5 1235.8,601.6Z" fill="#8c8c8c"/><path d="M1283.5,614.9 1232.6,614.9 1232.6,619.5 1283.5,619.5Z" fill="#525252"/><path d="M1457,614.9 1504.3,614.9 1504.3,619.5 1457,619.5Z" fill="#464646"/><path d="M1504.3,614.9 1501.4,597.1 1501.4,601.6 1504.3,619.5Z" fill="#8c8c8c"/><path d="M1445.7,632.1 1492.1,642.6 1492.1,647.4 1445.7,636.8Z" fill="#464646"/><path d="M1295.4,632.1 1245.9,642.6 1245.9,647.4 1295.4,636.8Z" fill="#525252"/><path d="M1492.1,642.6 1502.4,625 1502.4,629.6 1492.1,647.4Z" fill="#9b9b9b"/><path d="M1234.7,625 1245.9,642.6 1245.9,647.4 1234.7,629.6Z" fill="#9b9b9b"/><path d="M1320,645.8 1280.8,666.1 1280.8,671 1320,650.6Z" fill="#525252"/><path d="M1422.1,645.8 1459.5,666.1 1459.5,671 1422.1,650.6Z" fill="#464646"/><path d="M1256,651.7 1280.8,666.1 1280.8,671 1256,656.5Z" fill="#a8a8a8"/><path d="M1459.5,666.1 1482.7,651.7 1482.7,656.5 1459.5,671Z" fill="#a8a8a8"/><path d="M1353.3,653.4 1332.2,680.6 1332.2,685.6 1353.3,658.2Z" fill="#525252"/><path d="M1389.5,653.4 1410.3,680.6 1410.3,685.6 1389.5,658.2Z" fill="#464646"/><path d="M1297.7,672.5 1332.2,680.6 1332.2,685.6 1297.7,677.5Z" fill="#b1b1b1"/><path d="M1410.3,680.6 1443.5,672.5 1443.5,677.5 1410.3,685.6Z" fill="#b1b1b1"/><path d="M1352.7,683 1390.2,683 1390.2,687.9 1352.7,687.9Z" fill="#b4b4b4"/><path d="M1352.7,683 1390.2,683 1389.5,653.4 1410.3,680.6 1443.5,672.5 1422.1,645.8 1459.5,666.1 1482.7,651.7 1445.7,632.1 1492.1,642.6 1502.4,625 1457,614.9 1504.3,614.9 1501.4,597.1 1455.1,597.1 1496.4,587.7 1481.9,572.4 1441.1,581.4 1471.2,564.9 1447.9,553.8 1417.4,569.7 1433.1,549 1404.1,543.2 1387.6,563.6 1387.1,541.6 1355.8,541.6 1355.3,563.6 1338.5,543.2 1308.6,549 1324.8,569.7 1293.1,553.8 1268.4,564.9 1300.2,581.4 1256.9,572.4 1241.2,587.7 1285.5,597.1 1235.8,597.1 1232.6,614.9 1283.5,614.9 1234.7,625 1245.9,642.6 1295.4,632.1 1256,651.7 1280.8,666.1 1320,645.8 1297.7,672.5 1332.2,680.6 1353.3,653.4Z" fill="url(#gFin)"/><path d="M1437.9,605.9 1435.6,616.9 1426.8,627.1 1412.2,635.4 1393.1,640.8 1371.5,642.6 1349.7,640.8 1330.2,635.4 1315.1,627.1 1306,616.9 1303.6,605.9 1303.8,579.6 1306.3,590.3 1315.5,600.3 1330.8,608.4 1350.4,613.7 1372.4,615.5 1394.3,613.7 1413.5,608.4 1428.3,600.3 1437.2,590.3 1439.5,579.6Z" fill="url(#gCore)"/><path d="M1325.3,539.8 1308.9,519.7 1308.9,523.8 1325.3,544.1Z" fill="#525252"/><path d="M1418.9,539.8 1434.7,519.7 1434.7,523.8 1418.9,544.1Z" fill="#464646"/><path d="M1300.5,551.2 1268.3,535.1 1268.3,539.4 1300.5,555.5Z" fill="#525252"/><path d="M1442.8,551.2 1473.2,535.1 1473.2,539.4 1442.8,555.5Z" fill="#464646"/><path d="M1285.6,566.5 1240.8,557.4 1240.8,561.8 1285.6,570.9Z" fill="#525252"/><path d="M1456.9,566.5 1498.6,557.4 1498.6,561.8 1456.9,570.9Z" fill="#464646"/><path d="M1235.3,566.5 1232.1,583.8 1232.1,588.4 1235.3,570.9Z" fill="#8c8c8c"/><path d="M1283.5,583.8 1232.1,583.8 1232.1,588.4 1283.5,588.4Z" fill="#525252"/><path d="M1458.8,583.8 1506.7,583.8 1506.7,588.4 1458.8,588.4Z" fill="#464646"/><path d="M1506.7,583.8 1503.7,566.5 1503.7,570.9 1506.7,588.4Z" fill="#8c8c8c"/><path d="M1447.4,600.6 1494.3,610.8 1494.3,615.5 1447.4,605.2Z" fill="#464646"/><path d="M1295.6,600.6 1245.5,610.8 1245.5,615.5 1295.6,605.2Z" fill="#525252"/><path d="M1494.3,610.8 1504.7,593.6 1504.7,598.2 1494.3,615.5Z" fill="#9b9b9b"/><path d="M1234.2,593.6 1245.5,610.8 1245.5,615.5 1234.2,598.2Z" fill="#9b9b9b"/><path d="M1320.4,613.9 1280.9,633.7 1280.9,638.5 1320.4,618.6Z" fill="#525252"/><path d="M1423.6,613.9 1461.4,633.7 1461.4,638.5 1423.6,618.6Z" fill="#464646"/><path d="M1255.8,619.7 1280.9,633.7 1280.9,638.5 1255.8,624.5Z" fill="#a8a8a8"/><path d="M1461.4,633.7 1484.8,619.7 1484.8,624.5 1461.4,638.5Z" fill="#a8a8a8"/><path d="M1354.1,621.3 1332.7,647.8 1332.7,652.8 1354.1,626.1Z" fill="#525252"/><path d="M1390.7,621.3 1411.6,647.8 1411.6,652.8 1390.7,626.1Z" fill="#464646"/><path d="M1297.9,640 1332.7,647.8 1332.7,652.8 1297.9,644.8Z" fill="#b1b1b1"/><path d="M1411.6,647.8 1445.2,640 1445.2,644.8 1411.6,652.8Z" fill="#b1b1b1"/><path d="M1353.4,650.1 1391.3,650.1 1391.3,655 1353.4,655Z" fill="#b4b4b4"/><path d="M1353.4,650.1 1391.3,650.1 1390.7,621.3 1411.6,647.8 1445.2,640 1423.6,613.9 1461.4,633.7 1484.8,619.7 1447.4,600.6 1494.3,610.8 1504.7,593.6 1458.8,583.8 1506.7,583.8 1503.7,566.5 1456.9,566.5 1498.6,557.4 1484,542.4 1442.8,551.2 1473.2,535.1 1449.6,524.3 1418.9,539.8 1434.7,519.7 1405.4,514 1388.7,533.8 1388.2,512.4 1356.6,512.4 1356.1,533.8 1339.1,514 1308.9,519.7 1325.3,539.8 1293.3,524.3 1268.3,535.1 1300.5,551.2 1256.7,542.4 1240.8,557.4 1285.6,566.5 1235.3,566.5 1232.1,583.8 1283.5,583.8 1234.2,593.6 1245.5,610.8 1295.6,600.6 1255.8,619.7 1280.9,633.7 1320.4,613.9 1297.9,640 1332.7,647.8 1354.1,621.3Z" fill="url(#gFin)"/><path d="M1439.5,575.1 1437.2,585.8 1428.3,595.7 1413.5,603.7 1394.3,609 1372.4,610.8 1350.4,609 1330.8,603.7 1315.5,595.7 1306.3,585.8 1303.8,575.1 1304.1,550.5 1306.6,561 1315.9,570.7 1331.3,578.5 1351.2,583.7 1373.4,585.5 1395.4,583.7 1414.9,578.5 1429.8,570.7 1438.8,561 1441.2,550.5Z" fill="url(#gCore)"/><path d="M1325.7,511.9 1309.2,492.3 1309.2,496.4 1325.7,516.1Z" fill="#525252"/><path d="M1420.3,511.9 1436.3,492.3 1436.3,496.4 1420.3,516.1Z" fill="#464646"/><path d="M1300.7,522.9 1268.2,507.3 1268.2,511.5 1300.7,527.2Z" fill="#525252"/><path d="M1444.4,522.9 1475.2,507.3 1475.2,511.5 1444.4,527.2Z" fill="#464646"/><path d="M1285.6,537.8 1240.4,528.9 1240.4,533.2 1285.6,542.2Z" fill="#525252"/><path d="M1458.7,537.8 1500.9,528.9 1500.9,533.2 1458.7,542.2Z" fill="#464646"/><path d="M1234.9,537.8 1231.6,554.6 1231.6,559.1 1234.9,542.2Z" fill="#8c8c8c"/><path d="M1283.6,554.6 1231.6,554.6 1231.6,559.1 1283.6,559.1Z" fill="#525252"/><path d="M1460.7,554.6 1509,554.6 1509,559.1 1460.7,559.1Z" fill="#464646"/><path d="M1509,554.6 1506,537.8 1506,542.2 1509,559.1Z" fill="#8c8c8c"/><path d="M1449.2,570.9 1496.5,580.8 1496.5,585.5 1449.2,575.5Z" fill="#464646"/><path d="M1295.7,570.9 1245.2,580.8 1245.2,585.5 1295.7,575.5Z" fill="#525252"/><path d="M1496.5,580.8 1507,564.1 1507,568.7 1496.5,585.5Z" fill="#9b9b9b"/><path d="M1233.8,564.1 1245.2,580.8 1245.2,585.5 1233.8,568.7Z" fill="#9b9b9b"/><path d="M1320.8,583.8 1280.9,603 1280.9,607.8 1320.8,588.5Z" fill="#525252"/><path d="M1425.1,583.8 1463.2,603 1463.2,607.8 1425.1,588.5Z" fill="#464646"/><path d="M1255.5,589.4 1280.9,603 1280.9,607.8 1255.5,594.1Z" fill="#a8a8a8"/><path d="M1463.2,603 1486.9,589.4 1486.9,594.1 1463.2,607.8Z" fill="#a8a8a8"/><path d="M1354.9,591 1333.3,616.8 1333.3,621.6 1354.9,595.7Z" fill="#525252"/><path d="M1391.8,591 1413,616.8 1413,621.6 1391.8,595.7Z" fill="#464646"/><path d="M1298.1,609.1 1333.3,616.8 1333.3,621.6 1298.1,613.9Z" fill="#b1b1b1"/><path d="M1413,616.8 1446.9,609.1 1446.9,613.9 1413,621.6Z" fill="#b1b1b1"/><path d="M1354.2,619 1392.5,619 1392.5,623.8 1354.2,623.8Z" fill="#b4b4b4"/><path d="M1354.2,619 1392.5,619 1391.8,591 1413,616.8 1446.9,609.1 1425.1,583.8 1463.2,603 1486.9,589.4 1449.2,570.9 1496.5,580.8 1507,564.1 1460.7,554.6 1509,554.6 1506,537.8 1458.7,537.8 1500.9,528.9 1486.1,514.4 1444.4,522.9 1475.2,507.3 1451.4,496.8 1420.3,511.9 1436.3,492.3 1406.7,486.8 1389.8,506.1 1389.3,485.3 1357.4,485.3 1356.9,506.1 1339.8,486.8 1309.2,492.3 1325.7,511.9 1293.4,496.8 1268.2,507.3 1300.7,522.9 1256.4,514.4 1240.4,528.9 1285.6,537.8 1234.9,537.8 1231.6,554.6 1283.6,554.6 1233.8,564.1 1245.2,580.8 1295.7,570.9 1255.5,589.4 1280.9,603 1320.8,583.8 1298.1,609.1 1333.3,616.8 1354.9,591Z" fill="url(#gFin)"/><path d="M1441.2,546.1 1438.8,556.5 1429.8,566.1 1414.9,573.9 1395.4,579 1373.4,580.8 1351.2,579 1331.3,573.9 1315.9,566.1 1306.6,556.5 1304.1,546.1 1304.3,519.2 1306.9,529.3 1316.3,538.7 1331.8,546.3 1351.9,551.3 1374.3,553 1396.6,551.3 1416.3,546.3 1431.4,538.7 1440.4,529.3 1442.8,519.2Z" fill="url(#gCore)"/><path d="M1326.2,481.7 1309.5,462.7 1309.5,466.8 1326.2,485.9Z" fill="#525252"/><path d="M1421.8,481.7 1437.9,462.7 1437.9,466.8 1421.8,485.9Z" fill="#464646"/><path d="M1300.9,492.3 1268.1,477.3 1268.1,481.4 1300.9,496.6Z" fill="#525252"/><path d="M1446.1,492.3 1477.2,477.3 1477.2,481.4 1446.1,496.6Z" fill="#464646"/><path d="M1285.7,506.7 1240.1,498.2 1240.1,502.5 1285.7,511.1Z" fill="#525252"/><path d="M1460.6,506.7 1503.1,498.2 1503.1,502.5 1460.6,511.1Z" fill="#464646"/><path d="M1234.4,506.7 1231.1,523 1231.1,527.5 1234.4,511.1Z" fill="#8c8c8c"/><path d="M1283.6,523 1231.1,523 1231.1,527.5 1283.6,527.5Z" fill="#525252"/><path d="M1462.5,523 1511.3,523 1511.3,527.5 1462.5,527.5Z" fill="#464646"/><path d="M1511.3,523 1508.3,506.7 1508.3,511.1 1511.3,527.5Z" fill="#8c8c8c"/><path d="M1450.9,538.8 1498.7,548.4 1498.7,553 1450.9,543.3Z" fill="#464646"/><path d="M1295.9,538.8 1244.9,548.4 1244.9,553 1295.9,543.3Z" fill="#525252"/><path d="M1498.7,548.4 1509.3,532.2 1509.3,536.7 1498.7,553Z" fill="#9b9b9b"/><path d="M1233.3,532.2 1244.9,548.4 1244.9,553 1233.3,536.7Z" fill="#9b9b9b"/><path d="M1321.3,551.3 1280.9,569.9 1280.9,574.6 1321.3,555.9Z" fill="#525252"/><path d="M1426.6,551.3 1465.1,569.9 1465.1,574.6 1426.6,555.9Z" fill="#464646"/><path d="M1255.3,556.7 1280.9,569.9 1280.9,574.6 1255.3,561.4Z" fill="#a8a8a8"/><path d="M1465.1,569.9 1489,556.7 1489,561.4 1465.1,574.6Z" fill="#a8a8a8"/><path d="M1355.6,558.3 1333.8,583.2 1333.8,588 1355.6,562.9Z" fill="#525252"/><path d="M1393,558.3 1414.4,583.2 1414.4,588 1393,562.9Z" fill="#464646"/><path d="M1298.3,575.8 1333.8,583.2 1333.8,588 1298.3,580.5Z" fill="#b1b1b1"/><path d="M1414.4,583.2 1448.6,575.8 1448.6,580.5 1414.4,588Z" fill="#b1b1b1"/><path d="M1355,585.3 1393.6,585.3 1393.6,590.1 1355,590.1Z" fill="#b4b4b4"/><path d="M1355,585.3 1393.6,585.3 1393,558.3 1414.4,583.2 1448.6,575.8 1426.6,551.3 1465.1,569.9 1489,556.7 1450.9,538.8 1498.7,548.4 1509.3,532.2 1462.5,523 1511.3,523 1508.3,506.7 1460.6,506.7 1503.1,498.2 1488.2,484.1 1446.1,492.3 1477.2,477.3 1453.1,467.1 1421.8,481.7 1437.9,462.7 1408,457.4 1390.9,476 1390.4,455.9 1358.2,455.9 1357.7,476 1340.4,457.4 1309.5,462.7 1326.2,481.7 1293.6,467.1 1268.1,477.3 1300.9,492.3 1256.2,484.1 1240.1,498.2 1285.7,506.7 1234.4,506.7 1231.1,523 1283.6,523 1233.3,532.2 1244.9,548.4 1295.9,538.8 1255.3,556.7 1280.9,569.9 1321.3,551.3 1298.3,575.8 1333.8,583.2 1355.6,558.3Z" fill="url(#gFin)"/><path d="M1442.8,514.8 1440.4,524.8 1431.4,534.2 1416.3,541.7 1396.6,546.7 1374.3,548.4 1351.9,546.7 1331.8,541.7 1316.3,534.2 1306.9,524.8 1304.3,514.8 1304.6,487.9 1307.1,497.7 1316.7,506.7 1332.4,514.1 1352.7,518.8 1375.3,520.5 1397.8,518.8 1417.7,514.1 1432.9,506.7 1442.1,497.7 1444.5,487.9Z" fill="url(#gCore)"/><path d="M1326.7,451.6 1309.8,433.4 1309.8,437.4 1326.7,455.8Z" fill="#525252"/><path d="M1423.2,451.6 1439.5,433.4 1439.5,437.4 1423.2,455.8Z" fill="#464646"/><path d="M1301.1,461.9 1267.9,447.4 1267.9,451.5 1301.1,466.1Z" fill="#525252"/><path d="M1447.8,461.9 1479.2,447.4 1479.2,451.5 1447.8,466.1Z" fill="#464646"/><path d="M1285.8,475.8 1239.7,467.5 1239.7,471.8 1285.8,480.1Z" fill="#525252"/><path d="M1462.4,475.8 1505.4,467.5 1505.4,471.8 1462.4,480.1Z" fill="#464646"/><path d="M1234,475.8 1230.7,491.5 1230.7,495.9 1234,480.1Z" fill="#8c8c8c"/><path d="M1283.7,491.5 1230.7,491.5 1230.7,495.9 1283.7,495.9Z" fill="#525252"/><path d="M1464.4,491.5 1513.7,491.5 1513.7,495.9 1464.4,495.9Z" fill="#464646"/><path d="M1513.7,491.5 1510.6,475.8 1510.6,480.1 1513.7,495.9Z" fill="#8c8c8c"/><path d="M1452.6,506.7 1500.9,516 1500.9,520.5 1452.6,511.2Z" fill="#464646"/><path d="M1296.1,506.7 1244.5,516 1244.5,520.5 1296.1,511.2Z" fill="#525252"/><path d="M1500.9,516 1511.6,500.4 1511.6,504.8 1500.9,520.5Z" fill="#9b9b9b"/><path d="M1232.9,500.4 1244.5,516 1244.5,520.5 1232.9,504.8Z" fill="#9b9b9b"/><path d="M1321.7,518.8 1280.9,536.7 1280.9,541.4 1321.7,523.3Z" fill="#525252"/><path d="M1428.1,518.8 1467,536.7 1467,541.4 1428.1,523.3Z" fill="#464646"/><path d="M1255.1,524 1280.9,536.7 1280.9,541.4 1255.1,528.6Z" fill="#a8a8a8"/><path d="M1467,536.7 1491.2,524 1491.2,528.6 1467,541.4Z" fill="#a8a8a8"/><path d="M1356.4,525.5 1334.4,549.5 1334.4,554.3 1356.4,530.1Z" fill="#525252"/><path d="M1394.1,525.5 1415.7,549.5 1415.7,554.3 1394.1,530.1Z" fill="#464646"/><path d="M1298.5,542.3 1334.4,549.5 1334.4,554.3 1298.5,547.1Z" fill="#b1b1b1"/><path d="M1415.7,549.5 1450.3,542.3 1450.3,547.1 1415.7,554.3Z" fill="#b1b1b1"/><path d="M1355.7,551.5 1394.8,551.5 1394.8,556.3 1355.7,556.3Z" fill="#b4b4b4"/><path d="M1355.7,551.5 1394.8,551.5 1394.1,525.5 1415.7,549.5 1450.3,542.3 1428.1,518.8 1467,536.7 1491.2,524 1452.6,506.7 1500.9,516 1511.6,500.4 1464.4,491.5 1513.7,491.5 1510.6,475.8 1462.4,475.8 1505.4,467.5 1490.3,454 1447.8,461.9 1479.2,447.4 1454.9,437.6 1423.2,451.6 1439.5,433.4 1409.3,428.2 1392.1,446.2 1391.6,426.8 1359,426.8 1358.5,446.2 1341,428.2 1309.8,433.4 1326.7,451.6 1293.7,437.6 1267.9,447.4 1301.1,461.9 1256,454 1239.7,467.5 1285.8,475.8 1234,475.8 1230.7,491.5 1283.7,491.5 1232.9,500.4 1244.5,516 1296.1,506.7 1255.1,524 1280.9,536.7 1321.7,518.8 1298.5,542.3 1334.4,549.5 1356.4,525.5Z" fill="url(#gFin)"/><path d="M1444.5,483.6 1442.1,493.3 1432.9,502.2 1417.7,509.5 1397.8,514.3 1375.3,516 1352.7,514.3 1332.4,509.5 1316.7,502.2 1307.1,493.3 1304.6,483.6 1304.9,456 1307.4,465.4 1317,474.1 1332.9,481.1 1353.4,485.7 1376.3,487.3 1399,485.7 1419.1,481.1 1434.4,474.1 1443.7,465.4 1446.1,456Z" fill="url(#gCore)"/><path d="M1327.2,421.1 1310.1,403.5 1310.1,407.5 1327.2,425.2Z" fill="#525252"/><path d="M1424.6,421.1 1441.1,403.5 1441.1,407.5 1424.6,425.2Z" fill="#464646"/><path d="M1301.4,430.9 1267.8,417 1267.8,421.1 1301.4,435.1Z" fill="#525252"/><path d="M1449.5,430.9 1481.2,417 1481.2,421.1 1449.5,435.1Z" fill="#464646"/><path d="M1285.9,444.3 1239.3,436.3 1239.3,440.5 1285.9,448.5Z" fill="#525252"/><path d="M1464.2,444.3 1507.7,436.3 1507.7,440.5 1464.2,448.5Z" fill="#464646"/><path d="M1233.6,444.3 1230.2,459.3 1230.2,463.7 1233.6,448.5Z" fill="#8c8c8c"/><path d="M1283.7,459.3 1230.2,459.3 1230.2,463.7 1283.7,463.7Z" fill="#525252"/><path d="M1466.2,459.3 1516,459.3 1516,463.7 1466.2,463.7Z" fill="#464646"/><path d="M1516,459.3 1512.9,444.3 1512.9,448.5 1516,463.7Z" fill="#8c8c8c"/><path d="M1454.3,473.9 1503.1,482.8 1503.1,487.3 1454.3,478.4Z" fill="#464646"/><path d="M1296.3,473.9 1244.2,482.8 1244.2,487.3 1296.3,478.4Z" fill="#525252"/><path d="M1503.1,482.8 1513.9,467.9 1513.9,472.3 1503.1,487.3Z" fill="#9b9b9b"/><path d="M1232.4,467.9 1244.2,482.8 1244.2,487.3 1232.4,472.3Z" fill="#9b9b9b"/><path d="M1322.1,485.5 1280.9,502.7 1280.9,507.4 1322.1,490Z" fill="#525252"/><path d="M1429.5,485.5 1468.8,502.7 1468.8,507.4 1429.5,490Z" fill="#464646"/><path d="M1254.9,490.5 1280.9,502.7 1280.9,507.4 1254.9,495.1Z" fill="#a8a8a8"/><path d="M1468.8,502.7 1493.3,490.5 1493.3,495.1 1468.8,507.4Z" fill="#a8a8a8"/><path d="M1357.2,492 1334.9,515 1334.9,519.7 1357.2,496.5Z" fill="#525252"/><path d="M1395.3,492 1417.1,515 1417.1,519.7 1395.3,496.5Z" fill="#464646"/><path d="M1298.7,508.2 1334.9,515 1334.9,519.7 1298.7,512.8Z" fill="#b1b1b1"/><path d="M1417.1,515 1452,508.2 1452,512.8 1417.1,519.7Z" fill="#b1b1b1"/><path d="M1356.5,517 1395.9,517 1395.9,521.7 1356.5,521.7Z" fill="#b4b4b4"/><path d="M1356.5,517 1395.9,517 1395.3,492 1417.1,515 1452,508.2 1429.5,485.5 1468.8,502.7 1493.3,490.5 1454.3,473.9 1503.1,482.8 1513.9,467.9 1466.2,459.3 1516,459.3 1512.9,444.3 1464.2,444.3 1507.7,436.3 1492.4,423.3 1449.5,430.9 1481.2,417 1456.6,407.5 1424.6,421.1 1441.1,403.5 1410.6,398.6 1393.2,415.8 1392.7,397.2 1359.8,397.2 1359.3,415.8 1341.6,398.6 1310.1,403.5 1327.2,421.1 1293.9,407.5 1267.8,417 1301.4,430.9 1255.8,423.3 1239.3,436.3 1285.9,444.3 1233.6,444.3 1230.2,459.3 1283.7,459.3 1232.4,467.9 1244.2,482.8 1296.3,473.9 1254.9,490.5 1280.9,502.7 1322.1,485.5 1298.7,508.2 1334.9,515 1357.2,492Z" fill="url(#gFin)"/><path d="M1446.1,451.7 1443.7,461 1434.4,469.6 1419.1,476.6 1399,481.2 1376.3,482.8 1353.4,481.2 1332.9,476.6 1317,469.6 1307.4,461 1304.9,451.7 1305.1,423 1307.7,432 1317.4,440.3 1333.4,447 1354.1,451.4 1377.2,452.9 1400.2,451.4 1420.5,447 1436,440.3 1445.3,432 1447.8,423Z" fill="url(#gCore)"/><path d="M1327.7,389.5 1310.4,372.7 1310.4,376.7 1327.7,393.5Z" fill="#525252"/><path d="M1426.1,389.5 1442.7,372.7 1442.7,376.7 1426.1,393.5Z" fill="#464646"/><path d="M1301.6,398.9 1267.7,385.6 1267.7,389.6 1301.6,403Z" fill="#525252"/><path d="M1451.2,398.9 1483.2,385.6 1483.2,389.6 1451.2,403Z" fill="#464646"/><path d="M1285.9,411.6 1238.9,404 1238.9,408.2 1285.9,415.8Z" fill="#525252"/><path d="M1466,411.6 1509.9,404 1509.9,408.2 1466,415.8Z" fill="#464646"/><path d="M1233.1,411.6 1229.7,426 1229.7,430.4 1233.1,415.8Z" fill="#8c8c8c"/><path d="M1283.8,426 1229.7,426 1229.7,430.4 1283.8,430.4Z" fill="#525252"/><path d="M1468.1,426 1518.3,426 1518.3,430.4 1468.1,430.4Z" fill="#464646"/><path d="M1518.3,426 1515.2,411.6 1515.2,415.8 1518.3,430.4Z" fill="#8c8c8c"/><path d="M1456.1,440 1505.4,448.5 1505.4,452.9 1456.1,444.4Z" fill="#464646"/><path d="M1296.4,440 1243.8,448.5 1243.8,452.9 1296.4,444.4Z" fill="#525252"/><path d="M1505.4,448.5 1516.3,434.2 1516.3,438.6 1505.4,452.9Z" fill="#9b9b9b"/><path d="M1232,434.2 1243.8,448.5 1243.8,452.9 1232,438.6Z" fill="#9b9b9b"/><path d="M1322.5,451.1 1281,467.5 1281,472.1 1322.5,455.5Z" fill="#525252"/><path d="M1431,451.1 1470.7,467.5 1470.7,472.1 1431,455.5Z" fill="#464646"/><path d="M1254.6,455.9 1281,467.5 1281,472.1 1254.6,460.4Z" fill="#a8a8a8"/><path d="M1470.7,467.5 1495.4,455.9 1495.4,460.4 1470.7,472.1Z" fill="#a8a8a8"/><path d="M1358,457.2 1335.5,479.3 1335.5,483.9 1358,461.7Z" fill="#525252"/><path d="M1396.4,457.2 1418.5,479.3 1418.5,483.9 1396.4,461.7Z" fill="#464646"/><path d="M1298.9,472.7 1335.5,479.3 1335.5,483.9 1298.9,477.3Z" fill="#b1b1b1"/><path d="M1418.5,479.3 1453.7,472.7 1453.7,477.3 1418.5,483.9Z" fill="#b1b1b1"/><path d="M1357.3,481.1 1397.1,481.1 1397.1,485.8 1357.3,485.8Z" fill="#b4b4b4"/><path d="M1357.3,481.1 1397.1,481.1 1396.4,457.2 1418.5,479.3 1453.7,472.7 1431,451.1 1470.7,467.5 1495.4,455.9 1456.1,440 1505.4,448.5 1516.3,434.2 1468.1,426 1518.3,426 1515.2,411.6 1466,411.6 1509.9,404 1494.5,391.6 1451.2,398.9 1483.2,385.6 1458.4,376.5 1426.1,389.5 1442.7,372.7 1411.9,368 1394.3,384.5 1393.8,366.7 1360.6,366.7 1360.1,384.5 1342.2,368 1310.4,372.7 1327.7,389.5 1294,376.5 1267.7,385.6 1301.6,398.9 1255.5,391.6 1238.9,404 1285.9,411.6 1233.1,411.6 1229.7,426 1283.8,426 1232,434.2 1243.8,448.5 1296.4,440 1254.6,455.9 1281,467.5 1322.5,451.1 1298.9,472.7 1335.5,479.3 1358,457.2Z" fill="url(#gFin)"/><path d="M1447.8,418.8 1445.3,427.6 1436,435.9 1420.5,442.6 1400.2,447 1377.2,448.5 1354.1,447 1333.4,442.6 1317.4,435.9 1307.7,427.6 1305.1,418.8 1305.4,390 1308,398.5 1317.8,406.4 1334,412.8 1354.9,417 1378.2,418.5 1401.4,417 1421.8,412.8 1437.5,406.4 1446.9,398.5 1449.4,390Z" fill="url(#gCore)"/><path d="M1328.1,357.9 1310.7,342 1310.7,345.9 1328.1,362Z" fill="#525252"/><path d="M1427.5,357.9 1444.3,342 1444.3,345.9 1427.5,362Z" fill="#464646"/><path d="M1301.8,366.9 1267.6,354.2 1267.6,358.2 1301.8,371Z" fill="#525252"/><path d="M1452.8,366.9 1485.1,354.2 1485.1,358.2 1452.8,371Z" fill="#464646"/><path d="M1286,379 1238.5,371.8 1238.5,375.9 1286,383.2Z" fill="#525252"/><path d="M1467.9,379 1512.2,371.8 1512.2,375.9 1467.9,383.2Z" fill="#464646"/><path d="M1232.7,379 1229.2,392.7 1229.2,397 1232.7,383.2Z" fill="#8c8c8c"/><path d="M1283.8,392.7 1229.2,392.7 1229.2,397 1283.8,397Z" fill="#525252"/><path d="M1469.9,392.7 1520.7,392.7 1520.7,397 1469.9,397Z" fill="#464646"/><path d="M1520.7,392.7 1517.5,379 1517.5,383.2 1520.7,397Z" fill="#8c8c8c"/><path d="M1457.8,406 1507.6,414 1507.6,418.5 1457.8,410.3Z" fill="#464646"/><path d="M1296.6,406 1243.5,414 1243.5,418.5 1296.6,410.3Z" fill="#525252"/><path d="M1507.6,414 1518.6,400.4 1518.6,404.8 1507.6,418.5Z" fill="#9b9b9b"/><path d="M1231.5,400.4 1243.5,414 1243.5,418.5 1231.5,404.8Z" fill="#9b9b9b"/><path d="M1323,416.5 1281,432.1 1281,436.7 1323,420.9Z" fill="#525252"/><path d="M1432.5,416.5 1472.6,432.1 1472.6,436.7 1432.5,420.9Z" fill="#464646"/><path d="M1254.4,421 1281,432.1 1281,436.7 1254.4,425.5Z" fill="#a8a8a8"/><path d="M1472.6,432.1 1497.5,421 1497.5,425.5 1472.6,436.7Z" fill="#a8a8a8"/><path d="M1358.7,422.3 1336,443.3 1336,447.9 1358.7,426.8Z" fill="#525252"/><path d="M1397.5,422.3 1419.8,443.3 1419.8,447.9 1397.5,426.8Z" fill="#464646"/><path d="M1299.1,437 1336,443.3 1336,447.9 1299.1,441.6Z" fill="#b1b1b1"/><path d="M1419.8,443.3 1455.5,437 1455.5,441.6 1419.8,447.9Z" fill="#b1b1b1"/><path d="M1358,445.1 1398.2,445.1 1398.2,449.7 1358,449.7Z" fill="#b4b4b4"/><path d="M1358,445.1 1398.2,445.1 1397.5,422.3 1419.8,443.3 1455.5,437 1432.5,416.5 1472.6,432.1 1497.5,421 1457.8,406 1507.6,414 1518.6,400.4 1469.9,392.7 1520.7,392.7 1517.5,379 1467.9,379 1512.2,371.8 1496.6,360 1452.8,366.9 1485.1,354.2 1460.1,345.7 1427.5,357.9 1444.3,342 1413.2,337.5 1395.4,353.2 1394.9,336.3 1361.4,336.3 1360.8,353.2 1342.9,337.5 1310.7,342 1328.1,357.9 1294.2,345.7 1267.6,354.2 1301.8,366.9 1255.3,360 1238.5,371.8 1286,379 1232.7,379 1229.2,392.7 1283.8,392.7 1231.5,400.4 1243.5,414 1296.6,406 1254.4,421 1281,432.1 1323,416.5 1299.1,437 1336,443.3 1358.7,422.3Z" fill="url(#gFin)"/><path d="M1449.4,385.8 1446.9,394.2 1437.5,402.1 1421.8,408.4 1401.4,412.6 1378.2,414 1354.9,412.6 1334,408.4 1317.8,402.1 1308,394.2 1305.4,385.8 1305.6,356.8 1308.3,364.8 1318.2,372.3 1334.5,378.3 1355.6,382.3 1379.2,383.7 1402.5,382.3 1423.2,378.3 1439,372.3 1448.5,364.8 1451.1,356.8Z" fill="url(#gCore)"/><path d="M1328.6,326.3 1311.1,311.2 1311.1,315.1 1328.6,330.3Z" fill="#525252"/><path d="M1428.9,326.3 1445.9,311.2 1445.9,315.1 1428.9,330.3Z" fill="#464646"/><path d="M1302,334.7 1267.5,322.8 1267.5,326.7 1302,338.8Z" fill="#525252"/><path d="M1454.5,334.7 1487.1,322.8 1487.1,326.7 1454.5,338.8Z" fill="#464646"/><path d="M1286.1,346.2 1238.1,339.4 1238.1,343.5 1286.1,350.3Z" fill="#525252"/><path d="M1469.7,346.2 1514.4,339.4 1514.4,343.5 1469.7,350.3Z" fill="#464646"/><path d="M1232.2,346.2 1228.8,359.1 1228.8,363.4 1232.2,350.3Z" fill="#8c8c8c"/><path d="M1283.9,359.1 1228.8,359.1 1228.8,363.4 1283.9,363.4Z" fill="#525252"/><path d="M1471.8,359.1 1523,359.1 1523,363.4 1471.8,363.4Z" fill="#464646"/><path d="M1523,359.1 1519.8,346.2 1519.8,350.3 1523,363.4Z" fill="#8c8c8c"/><path d="M1459.5,371.7 1509.8,379.3 1509.8,383.7 1459.5,376Z" fill="#464646"/><path d="M1296.8,371.7 1243.2,379.3 1243.2,383.7 1296.8,376Z" fill="#525252"/><path d="M1509.8,379.3 1520.9,366.5 1520.9,370.7 1509.8,383.7Z" fill="#9b9b9b"/><path d="M1231.1,366.5 1243.2,379.3 1243.2,383.7 1231.1,370.7Z" fill="#9b9b9b"/><path d="M1323.4,381.6 1281,396.4 1281,400.9 1323.4,386Z" fill="#525252"/><path d="M1434,381.6 1474.5,396.4 1474.5,400.9 1434,386Z" fill="#464646"/><path d="M1254.2,385.9 1281,396.4 1281,400.9 1254.2,390.3Z" fill="#a8a8a8"/><path d="M1474.5,396.4 1499.6,385.9 1499.6,390.3 1474.5,400.9Z" fill="#a8a8a8"/><path d="M1359.5,387.1 1336.6,406.9 1336.6,411.5 1359.5,391.6Z" fill="#525252"/><path d="M1398.7,387.1 1421.2,406.9 1421.2,411.5 1398.7,391.6Z" fill="#464646"/><path d="M1299.3,401 1336.6,406.9 1336.6,411.5 1299.3,405.6Z" fill="#b1b1b1"/><path d="M1421.2,406.9 1457.2,401 1457.2,405.6 1421.2,411.5Z" fill="#b1b1b1"/><path d="M1358.8,408.6 1399.4,408.6 1399.4,413.2 1358.8,413.2Z" fill="#b4b4b4"/><path d="M1358.8,408.6 1399.4,408.6 1398.7,387.1 1421.2,406.9 1457.2,401 1434,381.6 1474.5,396.4 1499.6,385.9 1459.5,371.7 1509.8,379.3 1520.9,366.5 1471.8,359.1 1523,359.1 1519.8,346.2 1469.7,346.2 1514.4,339.4 1498.7,328.2 1454.5,334.7 1487.1,322.8 1461.9,314.7 1428.9,326.3 1445.9,311.2 1414.5,307 1396.6,321.8 1396.1,305.8 1362.2,305.8 1361.6,321.8 1343.5,307 1311.1,311.2 1328.6,326.3 1294.3,314.7 1267.5,322.8 1302,334.7 1255.1,328.2 1238.1,339.4 1286.1,346.2 1232.2,346.2 1228.8,359.1 1283.9,359.1 1231.1,366.5 1243.2,379.3 1296.8,371.7 1254.2,385.9 1281,396.4 1323.4,381.6 1299.3,401 1336.6,406.9 1359.5,387.1Z" fill="url(#gFin)"/><path d="M1451.1,352.6 1448.5,360.6 1439,368 1423.2,374 1402.5,377.9 1379.2,379.3 1355.6,377.9 1334.5,374 1318.2,368 1308.3,360.6 1305.6,352.6 1305.9,322.8 1308.6,330.4 1318.5,337.4 1335,343.1 1356.3,346.8 1380.1,348.1 1403.7,346.8 1424.6,343.1 1440.6,337.4 1450.2,330.4 1452.7,322.8Z" fill="url(#gCore)"/><path d="M1329.1,294 1311.4,279.9 1311.4,283.7 1329.1,297.9Z" fill="#525252"/><path d="M1430.4,294 1447.5,279.9 1447.5,283.7 1430.4,297.9Z" fill="#464646"/><path d="M1302.3,301.9 1267.4,290.7 1267.4,294.6 1302.3,305.9Z" fill="#525252"/><path d="M1456.2,301.9 1489.1,290.7 1489.1,294.6 1456.2,305.9Z" fill="#464646"/><path d="M1286.1,312.7 1237.7,306.3 1237.7,310.3 1286.1,316.8Z" fill="#525252"/><path d="M1471.5,312.7 1516.7,306.3 1516.7,310.3 1471.5,316.8Z" fill="#464646"/><path d="M1231.8,312.7 1228.3,324.8 1228.3,329 1231.8,316.8Z" fill="#8c8c8c"/><path d="M1283.9,324.8 1228.3,324.8 1228.3,329 1283.9,329Z" fill="#525252"/><path d="M1473.6,324.8 1525.3,324.8 1525.3,329 1473.6,329Z" fill="#464646"/><path d="M1525.3,324.8 1522.1,312.7 1522.1,316.8 1525.3,329Z" fill="#8c8c8c"/><path d="M1461.3,336.6 1512,343.7 1512,348.1 1461.3,340.9Z" fill="#464646"/><path d="M1297,336.6 1242.8,343.7 1242.8,348.1 1297,340.9Z" fill="#525252"/><path d="M1512,343.7 1523.2,331.7 1523.2,335.9 1512,348.1Z" fill="#9b9b9b"/><path d="M1230.6,331.7 1242.8,343.7 1242.8,348.1 1230.6,335.9Z" fill="#9b9b9b"/><path d="M1323.8,345.9 1281,359.8 1281,364.2 1323.8,350.3Z" fill="#525252"/><path d="M1435.5,345.9 1476.3,359.8 1476.3,364.2 1435.5,350.3Z" fill="#464646"/><path d="M1253.9,350 1281,359.8 1281,364.2 1253.9,354.3Z" fill="#a8a8a8"/><path d="M1476.3,359.8 1501.7,350 1501.7,354.3 1476.3,364.2Z" fill="#a8a8a8"/><path d="M1360.3,351.1 1337.1,369.7 1337.1,374.2 1360.3,355.5Z" fill="#525252"/><path d="M1399.8,351.1 1422.5,369.7 1422.5,374.2 1399.8,355.5Z" fill="#464646"/><path d="M1299.5,364.1 1337.1,369.7 1337.1,374.2 1299.5,368.6Z" fill="#b1b1b1"/><path d="M1422.5,369.7 1458.9,364.1 1458.9,368.6 1422.5,374.2Z" fill="#b1b1b1"/><path d="M1359.6,371.3 1400.5,371.3 1400.5,375.8 1359.6,375.8Z" fill="#b4b4b4"/><path d="M1359.6,371.3 1400.5,371.3 1399.8,351.1 1422.5,369.7 1458.9,364.1 1435.5,345.9 1476.3,359.8 1501.7,350 1461.3,336.6 1512,343.7 1523.2,331.7 1473.6,324.8 1525.3,324.8 1522.1,312.7 1471.5,312.7 1516.7,306.3 1500.8,295.8 1456.2,301.9 1489.1,290.7 1463.6,283.1 1430.4,294 1447.5,279.9 1415.8,275.9 1397.7,289.8 1397.2,274.8 1363,274.8 1362.4,289.8 1344.1,275.9 1311.4,279.9 1329.1,294 1294.5,283.1 1267.4,290.7 1302.3,301.9 1254.9,295.8 1237.7,306.3 1286.1,312.7 1231.8,312.7 1228.3,324.8 1283.9,324.8 1230.6,331.7 1242.8,343.7 1297,336.6 1253.9,350 1281,359.8 1323.8,345.9 1299.5,364.1 1337.1,369.7 1360.3,351.1Z" fill="url(#gFin)"/><path d="M1452.7,318.7 1450.2,326.2 1440.6,333.1 1424.6,338.8 1403.7,342.5 1380.1,343.7 1356.3,342.5 1335,338.8 1318.5,333.1 1308.6,326.2 1305.9,318.7 1306.2,288.6 1308.8,295.6 1318.9,302.1 1335.6,307.4 1357.1,310.9 1381.1,312.1 1404.9,310.9 1426,307.4 1442.1,302.1 1451.8,295.6 1454.4,288.6Z" fill="url(#gCore)"/><path d="M1329.6,261.5 1311.7,248.4 1311.7,252.2 1329.6,265.4Z" fill="#525252"/><path d="M1431.8,261.5 1449.1,248.4 1449.1,252.2 1431.8,265.4Z" fill="#464646"/><path d="M1302.5,268.9 1267.3,258.5 1267.3,262.3 1302.5,272.9Z" fill="#525252"/><path d="M1457.9,268.9 1491.1,258.5 1491.1,262.3 1457.9,272.9Z" fill="#464646"/><path d="M1286.2,278.9 1237.4,273 1237.4,276.9 1286.2,282.9Z" fill="#525252"/><path d="M1473.3,278.9 1518.9,273 1518.9,276.9 1473.3,282.9Z" fill="#464646"/><path d="M1231.3,278.9 1227.8,290.2 1227.8,294.3 1231.3,282.9Z" fill="#8c8c8c"/><path d="M1284,290.2 1227.8,290.2 1227.8,294.3 1284,294.3Z" fill="#525252"/><path d="M1475.4,290.2 1527.7,290.2 1527.7,294.3 1475.4,294.3Z" fill="#464646"/><path d="M1527.7,290.2 1524.4,278.9 1524.4,282.9 1527.7,294.3Z" fill="#8c8c8c"/><path d="M1463,301.1 1514.2,307.8 1514.2,312.1 1463,305.4Z" fill="#464646"/><path d="M1297.1,301.1 1242.5,307.8 1242.5,312.1 1297.1,305.4Z" fill="#525252"/><path d="M1514.2,307.8 1525.5,296.6 1525.5,300.8 1514.2,312.1Z" fill="#9b9b9b"/><path d="M1230.2,296.6 1242.5,307.8 1242.5,312.1 1230.2,300.8Z" fill="#9b9b9b"/><path d="M1324.3,309.8 1281.1,322.7 1281.1,327.1 1324.3,314.1Z" fill="#525252"/><path d="M1437,309.8 1478.2,322.7 1478.2,327.1 1437,314.1Z" fill="#464646"/><path d="M1253.7,313.6 1281.1,322.7 1281.1,327.1 1253.7,317.9Z" fill="#a8a8a8"/><path d="M1478.2,322.7 1503.8,313.6 1503.8,317.9 1478.2,327.1Z" fill="#a8a8a8"/><path d="M1361,314.6 1337.7,331.9 1337.7,336.4 1361,319Z" fill="#525252"/><path d="M1401,314.6 1423.9,331.9 1423.9,336.4 1401,319Z" fill="#464646"/><path d="M1299.7,326.8 1337.7,331.9 1337.7,336.4 1299.7,331.2Z" fill="#b1b1b1"/><path d="M1423.9,331.9 1460.6,326.8 1460.6,331.2 1423.9,336.4Z" fill="#b1b1b1"/><path d="M1360.3,333.4 1401.7,333.4 1401.7,337.9 1360.3,337.9Z" fill="#b4b4b4"/><path d="M1360.3,333.4 1401.7,333.4 1401,314.6 1423.9,331.9 1460.6,326.8 1437,309.8 1478.2,322.7 1503.8,313.6 1463,301.1 1514.2,307.8 1525.5,296.6 1475.4,290.2 1527.7,290.2 1524.4,278.9 1473.3,278.9 1518.9,273 1502.9,263.2 1457.9,268.9 1491.1,258.5 1465.4,251.4 1431.8,261.5 1449.1,248.4 1417,244.7 1398.8,257.6 1398.3,243.6 1363.8,243.6 1363.2,257.6 1344.7,244.7 1311.7,248.4 1329.6,261.5 1294.6,251.4 1267.3,258.5 1302.5,268.9 1254.6,263.2 1237.4,273 1286.2,278.9 1231.3,278.9 1227.8,290.2 1284,290.2 1230.2,296.6 1242.5,307.8 1297.1,301.1 1253.7,313.6 1281.1,322.7 1324.3,309.8 1299.7,326.8 1337.7,331.9 1361,314.6Z" fill="url(#gFin)"/><path d="M1454.4,284.5 1451.8,291.5 1442.1,297.9 1426,303.2 1404.9,306.6 1381.1,307.8 1357.1,306.6 1335.6,303.2 1318.9,297.9 1308.8,291.5 1306.2,284.5 1306.4,253.7 1309.1,260.2 1319.3,266.2 1336.1,271.1 1357.8,274.3 1382,275.4 1406.1,274.3 1427.4,271.1 1443.6,266.2 1453.4,260.2 1456,253.7Z" fill="url(#gCore)"/><path d="M1330.1,228.5 1312,216.4 1312,220.1 1330.1,232.3Z" fill="#525252"/><path d="M1433.2,228.5 1450.7,216.4 1450.7,220.1 1433.2,232.3Z" fill="#464646"/><path d="M1302.7,235.3 1267.2,225.7 1267.2,229.5 1302.7,239.2Z" fill="#525252"/><path d="M1459.6,235.3 1493.1,225.7 1493.1,229.5 1459.6,239.2Z" fill="#464646"/><path d="M1286.3,244.5 1237,239 1237,243 1286.3,248.5Z" fill="#525252"/><path d="M1475.2,244.5 1521.2,239 1521.2,243 1475.2,248.5Z" fill="#464646"/><path d="M1230.9,244.5 1227.3,254.9 1227.3,259 1230.9,248.5Z" fill="#8c8c8c"/><path d="M1284,254.9 1227.3,254.9 1227.3,259 1284,259Z" fill="#525252"/><path d="M1477.3,254.9 1530,254.9 1530,259 1477.3,259Z" fill="#464646"/><path d="M1530,254.9 1526.7,244.5 1526.7,248.5 1530,259Z" fill="#8c8c8c"/><path d="M1464.7,265 1516.4,271.1 1516.4,275.4 1464.7,269.2Z" fill="#464646"/><path d="M1297.3,265 1242.2,271.1 1242.2,275.4 1297.3,269.2Z" fill="#525252"/><path d="M1516.4,271.1 1527.8,260.8 1527.8,265 1516.4,275.4Z" fill="#9b9b9b"/><path d="M1229.7,260.8 1242.2,271.1 1242.2,275.4 1229.7,265Z" fill="#9b9b9b"/><path d="M1324.7,273 1281.1,284.9 1281.1,289.2 1324.7,277.3Z" fill="#525252"/><path d="M1438.4,273 1480.1,284.9 1480.1,289.2 1438.4,277.3Z" fill="#464646"/><path d="M1253.5,276.5 1281.1,284.9 1281.1,289.2 1253.5,280.8Z" fill="#a8a8a8"/><path d="M1480.1,284.9 1505.9,276.5 1505.9,280.8 1480.1,289.2Z" fill="#a8a8a8"/><path d="M1361.8,277.5 1338.3,293.4 1338.3,297.8 1361.8,281.8Z" fill="#525252"/><path d="M1402.1,277.5 1425.3,293.4 1425.3,297.8 1402.1,281.8Z" fill="#464646"/><path d="M1299.9,288.7 1338.3,293.4 1338.3,297.8 1299.9,293Z" fill="#b1b1b1"/><path d="M1425.3,293.4 1462.3,288.7 1462.3,293 1425.3,297.8Z" fill="#b1b1b1"/><path d="M1361.1,294.8 1402.9,294.8 1402.9,299.2 1361.1,299.2Z" fill="#b4b4b4"/><path d="M1361.1,294.8 1402.9,294.8 1402.1,277.5 1425.3,293.4 1462.3,288.7 1438.4,273 1480.1,284.9 1505.9,276.5 1464.7,265 1516.4,271.1 1527.8,260.8 1477.3,254.9 1530,254.9 1526.7,244.5 1475.2,244.5 1521.2,239 1505,230 1459.6,235.3 1493.1,225.7 1467.1,219.2 1433.2,228.5 1450.7,216.4 1418.3,213 1400,224.9 1399.4,212 1364.6,212 1364,224.9 1345.3,213 1312,216.4 1330.1,228.5 1294.8,219.2 1267.2,225.7 1302.7,235.3 1254.4,230 1237,239 1286.3,244.5 1230.9,244.5 1227.3,254.9 1284,254.9 1229.7,260.8 1242.2,271.1 1297.3,265 1253.5,276.5 1281.1,284.9 1324.7,273 1299.9,288.7 1338.3,293.4 1361.8,277.5Z" fill="url(#gFin)"/><path d="M1456,249.7 1453.4,256.1 1443.6,262.1 1427.4,266.9 1406.1,270 1382,271.1 1357.8,270 1336.1,266.9 1319.3,262.1 1309.1,256.1 1306.4,249.7 1306.7,217.4 1309.4,223.3 1319.7,228.8 1336.6,233.3 1358.5,236.2 1383,237.2 1407.3,236.2 1428.7,233.3 1445.2,228.8 1455,223.3 1457.7,217.4Z" fill="url(#gCore)"/><path d="M1330.5,194.1 1312.3,183.1 1312.3,186.8 1330.5,197.9Z" fill="#878787"/><path d="M1434.7,194.1 1452.3,183.1 1452.3,186.8 1434.7,197.9Z" fill="#787878"/><path d="M1302.9,200.3 1267.1,191.6 1267.1,195.4 1302.9,204.2Z" fill="#878787"/><path d="M1461.2,200.3 1495.1,191.6 1495.1,195.4 1461.2,204.2Z" fill="#787878"/><path d="M1286.4,208.7 1236.6,203.7 1236.6,207.6 1286.4,212.7Z" fill="#878787"/><path d="M1477,208.7 1523.4,203.7 1523.4,207.6 1477,212.7Z" fill="#787878"/><path d="M1230.5,208.7 1226.9,218.2 1226.9,222.3 1230.5,212.7Z" fill="#c4c4c4"/><path d="M1284.1,218.2 1226.9,218.2 1226.9,222.3 1284.1,222.3Z" fill="#878787"/><path d="M1479.1,218.2 1532.3,218.2 1532.3,222.3 1479.1,222.3Z" fill="#787878"/><path d="M1532.3,218.2 1529,208.7 1529,212.7 1532.3,222.3Z" fill="#c4c4c4"/><path d="M1466.4,227.4 1518.6,233 1518.6,237.2 1466.4,231.5Z" fill="#787878"/><path d="M1297.5,227.4 1241.8,233 1241.8,237.2 1297.5,231.5Z" fill="#878787"/><path d="M1518.6,233 1530.1,223.6 1530.1,227.7 1518.6,237.2Z" fill="#cecece"/><path d="M1229.3,223.6 1241.8,233 1241.8,237.2 1229.3,227.7Z" fill="#cecece"/><path d="M1325.1,234.7 1281.1,245.5 1281.1,249.8 1325.1,238.9Z" fill="#878787"/><path d="M1439.9,234.7 1481.9,245.5 1481.9,249.8 1439.9,238.9Z" fill="#787878"/><path d="M1253.2,237.9 1281.1,245.5 1281.1,249.8 1253.2,242.1Z" fill="#d6d6d6"/><path d="M1481.9,245.5 1508,237.9 1508,242.1 1481.9,249.8Z" fill="#d6d6d6"/><path d="M1362.6,238.7 1338.8,253.3 1338.8,257.6 1362.6,243Z" fill="#878787"/><path d="M1403.3,238.7 1426.6,253.3 1426.6,257.6 1403.3,243Z" fill="#787878"/><path d="M1300.1,248.9 1338.8,253.3 1338.8,257.6 1300.1,253.3Z" fill="#dcdcdc"/><path d="M1426.6,253.3 1464,248.9 1464,253.3 1426.6,257.6Z" fill="#dcdcdc"/><path d="M1361.9,254.5 1404,254.5 1404,258.9 1361.9,258.9Z" fill="#dedede"/><path d="M1361.9,254.5 1404,254.5 1403.3,238.7 1426.6,253.3 1464,248.9 1439.9,234.7 1481.9,245.5 1508,237.9 1466.4,227.4 1518.6,233 1530.1,223.6 1479.1,218.2 1532.3,218.2 1529,208.7 1477,208.7 1523.4,203.7 1507.1,195.5 1461.2,200.3 1495.1,191.6 1468.9,185.6 1434.7,194.1 1452.3,183.1 1419.6,180 1401.1,190.9 1400.5,179.1 1365.4,179.1 1364.8,190.9 1346,180 1312.3,183.1 1330.5,194.1 1294.9,185.6 1267.1,191.6 1302.9,200.3 1254.2,195.5 1236.6,203.7 1286.4,208.7 1230.5,208.7 1226.9,218.2 1284.1,218.2 1229.3,223.6 1241.8,233 1297.5,227.4 1253.2,237.9 1281.1,245.5 1325.1,234.7 1300.1,248.9 1338.8,253.3 1362.6,238.7Z" fill="url(#gFinTop)"/><path d="M1305.1 202.8V212.5A75.5 19.2 0 0 0 1456.1 212.5V202.8Z" fill="#8e8e8e"/><ellipse cx="1380.6" cy="202.8" rx="75.4" ry="18.7" fill="#c5c5c5"/>
<g clip-path="url(#cTem)"><rect x="1700" y="190" width="990" height="660" fill="url(#gTemBg)"/><path d="M2525.2,158 2525.2,198 2487.1,251.5 2448.9,323 2420.3,380.3 2396.5,442.3 2391.7,513.8 2382.2,585.3 2377.4,656.9 2372.6,728.4 2367.9,836 2367.9,876 2513,876 2513,836 2522.5,800 2503.5,752.3 2494,704.6 2513,656.9 2532,609 2536.8,561.5 2555.9,513.8 2560.7,466 2546.4,428 2560.7,380.3 2589.3,323 2608.4,275.4 2632,198 2632,158Z" fill="#ededed" opacity="0.55" filter="url(#fB8)"/><g filter="url(#fRough)"><path d="M2010,158 2010,198 2005,275 1998,332.6 1991,370.7 1976.6,404 1971.8,447 1967,490 1962.3,542.4 1948,585.3 1933.7,623.5 1924,661.6 1929,704.6 1948,742.7 1924,795 1912,836 1912,876 2079,876 2079,836 2083.8,776 2088.6,704.6 2098.1,633 2112.4,561.5 2117.2,490 2126.7,418.4 2136.3,347 2150.6,275.4 2164.9,198 2164.9,158Z" fill="#9a9a9a" opacity="0.9"/><path d="M2010,158 2010,198 2005,275 1998,332.6 1991,370.7 1976.6,404 1971.8,447 1967,490 1962.3,542.4 1948,585.3 1933.7,623.5 1924,661.6 1929,704.6 1948,742.7 1924,795 1912,836 1912,876" fill="none" stroke="#4c4c4c" stroke-width="3" opacity="0.55"/><path d="M2040,158 2040,198 2035,275 2028,332.6 2021,370.7 2006.6,404 2001.8,447 1997,490 1992.3,542.4 1978,585.3 1963.7,623.5 1954,661.6 1959,704.6 1978,742.7 1954,795 1942,836 1942,876 2079,876 2079,836 2083.8,776 2088.6,704.6 2098.1,633 2112.4,561.5 2117.2,490 2126.7,418.4 2136.3,347 2150.6,275.4 2164.9,198 2164.9,158Z" fill="#5e5e5e" opacity="0.8"/><path d="M2062.9,158 2062.9,198 2048.6,275.4 2034.3,347 2024.7,418.4 2015.2,490 2010.4,561.5 1996.1,633 1986.6,704.6 1981.8,776 1977,836 1977,876 2079,876 2079,836 2083.8,776 2088.6,704.6 2098.1,633 2112.4,561.5 2117.2,490 2126.7,418.4 2136.3,347 2150.6,275.4 2164.9,198 2164.9,158Z" fill="#404040" opacity="0.8"/></g><g filter="url(#fRough2)"><path d="M2470.2,158 2470.2,198 2432.1,251.5 2393.9,323 2365.3,380.3 2341.5,442.3 2336.7,513.8 2327.2,585.3 2322.4,656.9 2317.6,728.4 2312.9,836 2312.9,876 2463,876 2463,836 2472.5,800 2453.5,752.3 2444,704.6 2463,656.9 2482,609 2486.8,561.5 2505.9,513.8 2510.7,466 2496.4,428 2510.7,380.3 2539.3,323 2558.4,275.4 2582,198 2582,158Z" fill="#b2b2b2" opacity="0.8"/><path d="M2470.2,158 2470.2,198 2432.1,251.5 2393.9,323 2365.3,380.3 2341.5,442.3 2336.7,513.8 2327.2,585.3 2322.4,656.9 2317.6,728.4 2312.9,836 2312.9,876 2425,876 2425,836 2434.5,800 2415.5,752.3 2406,704.6 2425,656.9 2444,609 2448.8,561.5 2467.9,513.8 2472.7,466 2458.4,428 2472.7,380.3 2501.3,323 2520.4,275.4 2544,198 2544,158Z" fill="#8a8a8a" opacity="0.75"/><path d="M2470.2,158 2470.2,198 2432.1,251.5 2393.9,323 2365.3,380.3 2341.5,442.3 2336.7,513.8 2327.2,585.3 2322.4,656.9 2317.6,728.4 2312.9,836 2312.9,876 2388,876 2388,836 2397.5,800 2378.5,752.3 2369,704.6 2388,656.9 2407,609 2411.8,561.5 2430.9,513.8 2435.7,466 2421.4,428 2435.7,380.3 2464.3,323 2483.4,275.4 2507,198 2507,158Z" fill="#555" opacity="0.8"/></g><path d="M2001.2 351.1q23.8 -10.4 47.6 -10.4M1944.9 689.7q28.5 -6.2 57 -4.6M1995.5 730.5q36 -8.5 71.9 -12.5M1944.4 763.2q28.8 10.7 57.5 21.3M1989.1 798.1q28.9 3.3 57.8 -3.2M1993.1 525.4q30.3 -1.4 60.7 5.4M2052.3 229.6q20.5 3.9 41 8.4M1984.2 464.2q31.4 -4.3 62.8 -5.1M1938.7 778.8q14.2 1.3 28.4 -3.8M2030.1 313.6q12.8 9.9 25.6 10.3M2030 211.6q37 17.6 74 37.4M1996.6 387.8q25.1 -7.4 50.2 -12M2020 228.7q36 -2 72 1M2001.7 333.1q13.9 -0.7 27.8 -5.6M2057 359.4q15.9 6.5 31.7 6.3M2020.2 354.8q13.6 -2 27.1 2.1M2026.8 220.3q19.5 -6.3 39.1 -6.1M1967.2 793.9q42.1 7.3 84.3 4.9M1971.2 516.3q15.8 15.1 31.6 20.5M1980 711.7q36.2 9 72.5 14.4M1924.8 812q32.6 28 65.1 51.9M1969.8 819.9q14 -1.2 28.1 -5.7M1996.9 339.9q37.4 -10 74.9 -29.1M1976 761.8q38.3 -4.3 76.7 -12.6M2003 501.8q12.5 -3.4 25 -9.1M2027.3 288.8q34.9 0.8 69.8 13.4M1987.9 547.8q36.1 -4.7 72.2 -3.1M2046.8 273.2q38.4 6.2 76.9 13.9M1951.4 764q18.6 10.1 37.1 22M2010.1 312.9q27.3 0.2 54.7 -0.7M2016.9 399.6q24.9 10.4 49.9 21.2M2028.4 428.3q40.1 14.7 80.3 25.2M2030.3 498.9q18.3 15.1 36.5 23.4M1956.2 693.5q31.4 -12.7 62.9 -15.3M1958.6 777.2q29.8 1.5 59.6 0M2042.5 315q22.3 -6.9 44.5 -2.4M1992.4 712.7q40.2 -7.6 80.4 -17.2M2004.2 686.6q15.1 7.3 30.3 10.4M2045.3 393.8q23.8 11.4 47.5 13.4M2020.8 409q34.9 22.9 69.8 48.1M1970.9 463.4q17.6 6.1 35.2 7.5M1955.2 598.9q11.2 15.1 22.5 18.4M2023.7 258.5q15.4 16.1 30.8 22.8M2047.2 391.5q15.4 10.3 30.8 16.2M1974.1 535.6q14.5 -7.5 28.9 -10.6M2044.9 385q30.7 15.5 61.3 27.3M2008.3 558.4q33.4 7.6 66.7 15.1M2018.8 243.4q38.5 -5.3 77.1 -8M2001.7 447.6q11.2 1.5 22.3 14.6M1998.7 743.1q19 4 37.9 8.6M1969.9 837.7q32.1 22.7 64.1 48.3M2047.2 268.6q39.8 -0.2 79.6 -3.9M1961.1 604.4q36 10.6 72 25.7M2001.7 733.9q32.7 23.7 65.5 43.5M1941.9 832q13.8 5.8 27.5 11.6M2003.1 328.5q29.4 23.1 58.8 41.4M1963.8 526q36.1 12.7 72.2 22.4M1975.8 506q19.3 16 38.6 26.1M1950 587.1q19.2 18.8 38.4 31.6M1983.1 704.9q25.1 -10.7 50.3 -9.8M1959.3 683.7q26.9 14 53.7 32.3M2027.5 219.3q17.2 7.9 34.3 24.6M2007.2 306.2q15.1 13.3 30.2 22.6M2007.5 417.9q41.4 -11.5 82.7 -16.9M2021.6 389.8q26.4 13.5 52.9 37.2M2063.8 217.4q17.7 -8.4 35.4 -5.7M1975 588.4q41.4 -11.6 82.8 -16.4M1919.5 826.3q36.6 17.1 73.3 30.1M2035.1 288.2q28.3 4.4 56.5 12M2019.2 224.2q18.9 -1.5 37.9 -4.7" fill="none" stroke="#2a2a2a" stroke-width="2.4" opacity="0.24" stroke-linecap="round" filter="url(#fB1)"/><path d="M2498.5 351.1q-23.3 10.7 -46.7 14.2M2444 689.7q-25.4 -8.1 -50.8 -26.4M2413.3 730.5q-36.4 7.5 -72.7 6.6M2446.4 763.2q-30.1 -10.8 -60.2 -11.8M2428.8 798.1q-28 11.5 -56 14.6M2476.5 525.4q-30 -0.1 -60 10.8M2554.4 229.6q-19.4 4.1 -38.8 15.6M2447.3 464.2q-29.4 -10.5 -58.9 -22.3M2421.5 778.8q-12.9 -8.3 -25.8 -12.6M2480.1 313.6q-13.7 6.8 -27.4 2.6M2533.4 211.6q-41.5 2.5 -82.9 -2.7M2443.8 387.8q-24.3 -14.8 -48.5 -17.7M2567.6 228.7q-33.6 11.9 -67.3 25.7M2524.3 333.1q-11.1 -8.9 -22.2 -17.6M2493.8 359.4q-15.1 5.6 -30.1 11.7M2464 354.8q-13.3 2.7 -26.7 5.4M2532.1 220.3q-16.8 -15.9 -33.5 -21M2421.9 793.9q-41.7 9.5 -83.4 13M2428.2 516.3q-17.7 -4.5 -35.4 -12.7M2408.6 711.7q-33.7 -10 -67.5 -30.1M2466 812q-40.1 6.8 -80.2 22.5M2426 819.9q-14.2 6.6 -28.5 3M2523.1 339.9q-39.6 10.4 -79.1 14.1M2436.2 761.8q-37.5 13.5 -75 20.4M2466.2 501.8q-12.9 4.4 -25.8 6.2M2499.7 288.8q-34.9 1.9 -69.7 13.8M2454.8 547.8q-34 7.5 -67.9 24.6M2505.9 273.2q-38.7 0.2 -77.4 10.8M2406.7 764q-18.6 -6.4 -37.2 -21.8M2483.8 312.9q-27.3 -4.1 -54.5 3.6M2499.8 399.6q-24.5 -7.5 -48.9 -23.3M2454 428.3q-39.2 -10.3 -78.4 -30.5M2456 498.9q-21.1 -9.2 -42.2 -9.8M2440.5 693.5q-31.9 1.8 -63.7 11.3M2457 777.2q-28.7 -2.8 -57.4 -16M2541.2 315q-21.1 11.2 -42.2 14.4M2418.9 712.7q-41 1.8 -81.9 -6.9M2409 686.6q-16 3.4 -32 -1.1M2459.1 393.8q-23 -12.3 -45.9 -18.1M2474.7 409q-41.7 5.2 -83.4 15.5M2458.2 463.4q-17.1 -0.2 -34.3 -11.1M2414.3 598.9q-14.5 -3 -29 -1.5M2517.2 258.5q-16.3 -13.2 -32.6 -20.1M2470.4 391.5q-16.4 3 -32.8 11.6M2487.5 535.6q-12.3 -3.4 -24.6 -18.6M2445.4 385q-32.5 11 -65 16.7M2476.5 558.4q-33.4 7.1 -66.9 14.5M2529.8 243.4q-37.7 6.9 -75.4 17.9M2428.1 447.6q-11.4 -11.1 -22.8 -13.9M2409.1 743.1q-17 -5.6 -33.9 -19M2403.6 837.7q-39.3 9.1 -78.6 16.1M2505.5 268.6q-39.8 -7.7 -79.6 -4.4M2415.7 604.4q-38.2 -3 -76.4 -2.1M2409.5 733.9q-39.2 -1.6 -78.5 -3.9M2425.5 832q-14.9 -3.9 -29.8 -1.7M2528.7 328.5q-33.6 16.6 -67.3 25.4M2499.6 526q-37.7 -2.1 -75.3 6.9M2438.5 506q-21.6 -10.1 -43.1 -17.6M2419.5 587.1q-23 -7.1 -46.1 -18.7M2397.6 704.9q-24.4 5.1 -48.8 15.6M2416.8 683.7q-28.4 -13 -56.9 -26.3M2538.1 219.3q-17.2 -6.4 -34.4 -24.5M2487.9 306.2q-18.6 -7.7 -37.2 -6.2M2441.2 417.9q-35.1 -17.8 -70.2 -46.9M2450.8 389.8q-28.1 -13.4 -56.2 -32M2560.2 217.4q-16.8 -0.4 -33.6 -12.4M2412.4 588.4q-39.9 15.9 -79.8 27.5M2405.2 826.3q-32.7 -26 -65.4 -44.7M2506 288.2q-28.3 9 -56.5 11.9M2564.1 224.2q-19.1 -2.4 -38.1 -1.1" fill="none" stroke="#3a3a3a" stroke-width="2.2" opacity="0.22" stroke-linecap="round" filter="url(#fB1)"/><path d="M2116.9,158 2116.9,198 2102.6,275.4 2088.3,347 2078.7,418.4 2069.2,490 2064.4,561.5 2050.1,633 2040.6,704.6 2035.8,776 2031,836 2031,876 2358.9,876 2358.9,836 2363.6,728.4 2368.4,656.9 2373.2,585.3 2382.7,513.8 2387.5,442.3 2411.3,380.3 2439.9,323 2478.1,251.5 2516.2,198 2516.2,158Z" fill="#222" filter="url(#fCore)"/><path d="M2184.9,158 2184.9,198 2170.6,275.4 2156.3,347 2146.7,418.4 2137.2,490 2132.4,561.5 2118.1,633 2108.6,704.6 2103.8,776 2099,836 2099,876 2302.9,876 2302.9,836 2307.6,728.4 2312.4,656.9 2317.2,585.3 2326.7,513.8 2331.5,442.3 2355.3,380.3 2383.9,323 2422.1,251.5 2460.2,198 2460.2,158Z" fill="#191919" opacity="0.7" filter="url(#fCore)"/><path d="M2140 180L2545 180L2480 285L2350 330L2190 300Z" fill="#141414" opacity="0.85" filter="url(#fCore)"/><rect x="1900" y="190" width="700" height="660" filter="url(#fMott)" opacity="0.09"/><path d="M1986 456.6L2053 509M1921.7 664.5L1967 659.2M2401 466L2463 440M2391.5 566.3L2482 549.6M2510.7 268.2L2558.4 287.3M1933.7 699.8L2005.2 747.5M1919.4 826.2L1986.1 812M1990 290L2040 268M1985 640L2050 690M2388 760L2440 795M1975 425L2030 415M2420 610L2478 600" stroke="#1c1c1c" stroke-width="2.2" stroke-linecap="round" opacity="0.45" filter="url(#fB1)"/><path d="M2610 190L2690 190L2690 262Z" fill="#333" filter="url(#fB3)"/><path d="M1700 800Q1800 812 1900 850" stroke="#fff" stroke-width="34" fill="none" opacity="0.95" filter="url(#fB8)"/><path d="M1700 801Q1770 812 1828 838L1700 845Z" fill="#444" filter="url(#fRough3)"/><rect x="1714" y="198" width="962" height="640" filter="url(#fGrain)" opacity="0.22"/><rect x="1714" y="198" width="962" height="640" filter="url(#fGrainW)" opacity="0.16"/><rect x="1754.8" y="791.6" width="151.6" height="4.8" fill="#111"/><text x="1754.8" y="783" font-family="Liberation Sans, sans-serif" font-size="37.7" fill="#111" textLength="123.8" lengthAdjust="spacing">200 nm</text></g>
<rect x="161.4" y="1032.3" width="708" height="8" fill="#000"/><rect x="161.4" y="1390.9" width="708" height="8" fill="#000"/><path d="M275 1040.7C272.6 1043.4 264.5 1051.2 260.9 1056.8C257.2 1062.4 253.7 1069.2 253.1 1074.3C252.5 1079.4 254.6 1083.4 257.4 1087.5C260.2 1091.6 266.3 1094.4 269.7 1098.9C273.1 1103.4 277 1109.2 277.6 1114.7C278.2 1120.2 275.7 1124.6 273.2 1132.2C270.7 1139.8 265.8 1152.6 262.7 1160.2C259.6 1167.8 256.1 1174.9 254.8 1177.8C252 1175.3 243.4 1166.6 238.2 1162.9C232.9 1159.2 227.4 1155.7 223.3 1155.8C219.2 1155.9 216.7 1159.5 213.6 1163.7C210.5 1168 207.5 1177.7 204.9 1181.3C202.3 1184.9 201.9 1185.6 197.8 1185.6C193.7 1185.6 187 1183.6 180.3 1181.3C173.6 1179 161.3 1173.2 157.5 1171.6M326.7 1040.7C324.8 1043.4 317.5 1051.8 315.3 1056.8C313.1 1061.8 312.1 1066.4 313.5 1070.8C314.9 1075.2 321.1 1078.7 324 1083.1C326.9 1087.5 330 1091.2 330.7 1097.1C331.4 1102.9 329.8 1110.6 328.4 1118.2C327 1125.8 324.5 1134 322.3 1142.7C320.1 1151.5 316.5 1166 315.3 1170.7C317.1 1171.9 322 1175.8 325.8 1177.8C329.6 1179.8 334.6 1183 338.1 1183C341.6 1183 344.2 1180.4 346.8 1177.8C349.4 1175.2 351.2 1169.7 353.8 1167.2C356.4 1164.7 357.9 1162.9 362.6 1162.9C367.3 1162.9 375.8 1165.3 381.9 1167.2C388 1169.1 396.5 1173.1 399.4 1174.3C400.9 1170.8 405.3 1160.8 408.2 1153.2C411.1 1145.6 415.2 1135.1 417 1128.7C418.8 1122.3 419.9 1119.7 418.7 1114.7C417.5 1109.7 413.4 1103.9 409.9 1098.9C406.4 1093.9 400.2 1089.3 397.7 1084.9C395.2 1080.5 394.1 1077.6 395 1072.6C395.9 1067.6 399.4 1060.4 402.9 1055.1C406.4 1049.8 413.9 1043.1 416.1 1040.7M467.8 1040.7C466.2 1043.2 460.1 1051.5 458 1056C455.9 1060.5 454.5 1063.8 455.5 1068C456.5 1072.2 461.2 1076.8 464 1081C466.8 1085.2 470.6 1087.8 472 1093C473.4 1098.2 473.5 1104.7 472.5 1112C471.5 1119.3 468.8 1127.2 466 1137C463.2 1146.8 457.2 1165.1 455.5 1170.7C457 1171.6 459 1173.8 464.3 1176C469.6 1178.2 481.3 1183.6 487.1 1183.9C492.9 1184.2 495.7 1180.9 499.3 1177.8C502.9 1174.7 505.5 1168 508.8 1165.5C512.1 1163 514 1162.6 519.3 1162.9C524.5 1163.2 533.9 1165.2 540.3 1167.2C546.7 1169.2 554.9 1173.8 557.8 1175.1C560.1 1169.1 568.5 1148.7 571.9 1139.2C575.3 1129.7 577.7 1124.1 578 1118.2C578.3 1112.3 576.4 1108.8 573.6 1104.1C570.8 1099.4 564.6 1095.1 561.3 1090.1C557.9 1085.1 554.1 1079.8 553.5 1074.3C552.9 1068.8 554.4 1062.4 557.8 1056.8C561.1 1051.2 571 1043.4 573.6 1040.7M628 1040.7C626.1 1043.4 619 1052.1 616.6 1056.8C614.2 1061.5 612.9 1065.3 613.9 1069.1C614.9 1072.9 619.9 1076.1 622.7 1079.6C625.5 1083.1 629.1 1086 630.6 1090.1C632.1 1094.2 632.2 1097.7 631.5 1104.1C630.8 1110.5 629 1117.6 626.2 1128.7C623.4 1139.8 616.7 1163.7 614.8 1170.7C616.1 1171.6 618.8 1174 622.7 1176C626.7 1178 633.8 1181.4 638.5 1183C643.2 1184.6 647.2 1186.2 650.7 1185.6C654.2 1185 656.6 1182.3 659.5 1179.5C662.4 1176.7 665.1 1171.5 668.3 1169C671.5 1166.5 673.8 1164.9 678.8 1164.6C683.8 1164.3 691.4 1165.7 698.1 1167.2C704.8 1168.7 714.9 1171.6 719.1 1173.4C723.3 1175.2 722.8 1177.1 723.5 1177.8C724.5 1174.9 726.8 1167.5 729.6 1160.2C732.4 1152.9 737.8 1140.9 740.1 1133.9C742.4 1126.9 744.2 1123.2 743.6 1118.2C743 1113.2 740.1 1109.1 736.6 1104.1C733.1 1099.1 725.5 1093.1 722.6 1088.4C719.7 1083.7 718.5 1081.1 719.1 1076.1C719.7 1071.1 722.2 1064.5 726.1 1058.6C730 1052.7 740 1043.7 742.8 1040.7M793.6 1040.7C792 1043.1 786.2 1050.7 784 1055.1C781.8 1059.5 779.9 1063.2 780.5 1067.3C781.1 1071.4 784.9 1075.2 787.5 1079.6C790.1 1084 795 1087.8 796.2 1093.6C797.4 1099.4 796 1106.5 794.5 1114.7C793 1122.9 789.8 1132.9 787.5 1142.7C785.2 1152.5 781.7 1168.3 780.5 1173.4C783.4 1174.7 792.2 1178.8 798 1181.3C803.8 1183.8 810.5 1187.7 815.5 1188.3C820.5 1188.9 824.3 1188 827.8 1184.8C831.3 1181.6 833.6 1173.4 836.5 1169C839.4 1164.6 842.1 1160 845.3 1158.5C848.5 1157 850.1 1156.5 855.8 1160.2C861.5 1163.9 875.5 1177 879.5 1180.4M161 1255.9C164.8 1257.2 177.1 1262 183.8 1263.8C190.5 1265.6 196.6 1267.2 201.3 1267C206 1266.8 208.7 1265.5 211.9 1262.9C215.1 1260.3 218 1255.1 220.6 1251.6C223.2 1248.1 225.1 1244.1 227.6 1241.9C230.1 1239.7 232 1238.2 235.5 1238.4C239 1238.6 243.1 1239.9 248.7 1242.8C254.2 1245.7 265.4 1253.7 268.8 1255.9C267.2 1257.5 262.8 1261.4 259.2 1265.6C255.5 1269.8 249.8 1276 246.9 1281.3C244 1286.5 241.4 1292.1 241.7 1297.1C242 1302.1 245.5 1306.4 248.7 1311.1C251.9 1315.8 257.9 1320.8 260.9 1325.2C263.9 1329.6 266.3 1332.7 266.6 1337.4C266.9 1342.1 264.8 1346.5 262.7 1353.2C260.6 1359.9 256.2 1371.4 253.9 1377.7C251.6 1384 249.6 1388.7 248.7 1390.9M304.8 1390.9C305.8 1386.7 308.9 1374.1 310.9 1365.5C312.9 1356.9 315.4 1346.5 317 1339.2C318.6 1331.9 320.5 1326.7 320.2 1321.7C319.9 1316.7 317.9 1313.5 315.3 1309.4C312.7 1305.3 307 1300.9 304.8 1297.1C302.6 1293.3 301.5 1291 302.1 1286.6C302.7 1282.2 306 1275.6 308.3 1270.8C310.6 1266 314.9 1259.9 316.2 1257.7C319 1258.1 326.5 1259.1 332.8 1260C339.1 1260.9 348.5 1263 353.8 1262.9C359.1 1262.8 361.2 1261.6 364.4 1259.4C367.6 1257.2 369.9 1252.6 373.1 1249.8C376.3 1247 379.8 1243.4 383.6 1242.8C387.4 1242.2 391.1 1244.4 395.9 1246.3C400.7 1248.2 409.8 1252.9 412.6 1254.2C411 1255.8 406.5 1259.6 402.9 1263.8C399.2 1268 393.8 1274.6 390.7 1279.6C387.6 1284.6 384.5 1288.9 384.5 1293.6C384.5 1298.3 387.6 1302.9 390.7 1307.6C393.8 1312.3 399.8 1317 402.9 1321.7C406 1326.4 408.7 1330.7 409.1 1335.7C409.6 1340.7 407.7 1345.1 405.6 1351.5C403.6 1357.9 399.4 1367.6 396.8 1374.2C394.2 1380.8 391 1388.1 389.8 1390.9M446.7 1390.9C447.9 1386.4 451.4 1373.2 453.8 1363.7C456.2 1354.2 459.4 1341.5 460.8 1333.9C462.2 1326.3 463.1 1322.9 462.5 1318.2C461.9 1313.5 459.9 1310 457.3 1305.9C454.7 1301.8 448.6 1297.4 446.7 1293.6C444.8 1289.8 445.2 1287.2 445.9 1283.1C446.6 1279 449.2 1273.3 451.1 1269.1C453 1264.9 456.3 1259.6 457.3 1257.7C459.9 1258.1 466 1259 473 1260C480 1261 493 1263.8 499.3 1263.8C505.6 1263.8 507.4 1262.6 511 1260C514.6 1257.4 517.3 1251 521 1248C524.7 1245 528.6 1242.5 533.3 1241.9C538 1241.3 543 1242.6 549.1 1244.5C555.2 1246.4 566.6 1251.8 570.1 1253.3C568 1255.3 561.7 1260.9 557.8 1265.6C553.9 1270.3 549.1 1276.3 546.5 1281.3C543.9 1286.3 542 1291 542.1 1295.4C542.2 1299.8 544.4 1303.2 547.3 1307.6C550.2 1312 556.2 1317 559.6 1321.7C563 1326.4 566.8 1330.5 567.5 1335.7C568.2 1341 566.2 1346.2 564 1353.2C561.8 1360.2 556.8 1371.4 554.3 1377.7C551.8 1384 550 1388.7 549.1 1390.9M605.2 1390.9C606.4 1385.8 609.9 1370.6 612.2 1360.2C614.5 1349.8 617.8 1336.6 619.2 1328.7C620.7 1320.8 621.8 1317.3 620.9 1312.9C620 1308.5 616.5 1305.6 613.9 1302.4C611.3 1299.2 607 1296.5 605.2 1293.6C603.5 1290.7 603 1288.4 603.4 1284.9C603.8 1281.4 605.9 1276.8 607.8 1272.6C609.7 1268.3 613.6 1261.6 614.8 1259.4C617.9 1260 625.5 1261.7 633.2 1262.9C641 1264.1 654.6 1266.5 661.3 1266.5C668 1266.5 669.7 1265.4 673.5 1262.9C677.3 1260.4 680.5 1254.8 684 1251.6C687.5 1248.4 690.2 1244.7 694.6 1243.7C699 1242.7 703.4 1243.5 710.3 1245.4C717.2 1247.3 731.5 1253.5 735.8 1255.1C733.9 1257.1 728.3 1262.6 724.4 1267.3C720.5 1272 714.9 1278.1 712.1 1283.1C709.3 1288.1 707.4 1292.4 707.7 1297.1C708 1301.8 710.7 1306.7 713.8 1311.1C716.9 1315.5 722.7 1319.3 726.1 1323.4C729.5 1327.5 733.1 1331 734 1335.7C734.9 1340.4 733.3 1345.1 731.4 1351.5C729.5 1357.9 725.4 1367.6 722.6 1374.2C719.8 1380.8 716 1388.1 714.7 1390.9M771.7 1390.9C772.9 1385.8 776.4 1370 778.7 1360.2C781 1350.4 784.2 1339.2 785.7 1332.2C787.2 1325.2 788.1 1322.3 787.5 1318.2C786.9 1314.1 784.8 1311.4 782.2 1307.6C779.6 1303.8 773.8 1298.6 771.7 1295.4C769.7 1292.2 769.6 1291.9 769.9 1288.4C770.2 1284.9 771.3 1279.1 773.4 1274.3C775.5 1269.5 780.7 1261.9 782.2 1259.4C787.8 1258.1 795.5 1261.6 801.5 1263.8C807.5 1266 815.5 1269.4 820.8 1270C826 1270.6 829.5 1269.5 833 1267.3C836.5 1265.1 838.6 1260.3 841.8 1256.8C845 1253.3 848.8 1248.3 852.3 1246.3C855.8 1244.2 858.7 1243.6 862.8 1244.5C866.9 1245.4 871.8 1249 876.9 1251.6C882 1254.2 890.7 1258.8 893.5 1260.3" fill="none" stroke="#2e6da9" stroke-width="3.6" stroke-linejoin="round" stroke-linecap="round"/><circle cx="288.6" cy="1072.9" r="11" fill="url(#gG)"/><circle cx="293.4" cy="1139.7" r="11" fill="url(#gG)"/><circle cx="431" cy="1072.9" r="11" fill="url(#gG)"/><circle cx="435.9" cy="1139.7" r="11" fill="url(#gG)"/><circle cx="589.9" cy="1073.5" r="11" fill="url(#gG)"/><circle cx="594.7" cy="1140.1" r="11" fill="url(#gG)"/><circle cx="755" cy="1077.8" r="11" fill="url(#gG)"/><circle cx="759.9" cy="1143.6" r="11" fill="url(#gG)"/><circle cx="279.4" cy="1286.3" r="11" fill="url(#gG)"/><circle cx="284.1" cy="1352.3" r="11" fill="url(#gG)"/><circle cx="421.7" cy="1285.7" r="11" fill="url(#gG)"/><circle cx="426.2" cy="1351.8" r="11" fill="url(#gG)"/><circle cx="580.3" cy="1286.3" r="11" fill="url(#gG)"/><circle cx="585" cy="1352.9" r="11" fill="url(#gG)"/><circle cx="745.4" cy="1291" r="11" fill="url(#gG)"/><circle cx="750.3" cy="1357.2" r="11" fill="url(#gG)"/><circle cx="211" cy="1214.6" r="11" fill="url(#gG)"/><circle cx="285.8" cy="1214.6" r="11" fill="url(#gG)"/><circle cx="360.5" cy="1214.6" r="11" fill="url(#gG)"/><circle cx="435" cy="1214.6" r="11" fill="url(#gG)"/><circle cx="510.3" cy="1214.6" r="11" fill="url(#gG)"/><circle cx="585" cy="1214.6" r="11" fill="url(#gG)"/><circle cx="659.9" cy="1214.6" r="11" fill="url(#gG)"/><circle cx="736.6" cy="1214.6" r="11" fill="url(#gG)"/><circle cx="812.9" cy="1214.6" r="11" fill="url(#gG)"/><path d="M296.4 1082.8H306.6V1115.1H311.8L301.5 1125.7L291.2 1115.1H296.4Z" fill="url(#gAr)"/><path d="M444.1 1082.8H454.3V1115.1H459.5L449.2 1125.7L438.9 1115.1H444.1Z" fill="url(#gAr)"/><path d="M603.8 1083.5H614V1116.3H619.2L608.9 1126.9L598.6 1116.3H603.8Z" fill="url(#gAr)"/><path d="M764.7 1088H774.9V1120.2H780.1L769.8 1130.8L759.5 1120.2H764.7Z" fill="url(#gAr)"/><path d="M283.4 1339.2H293.6V1306.8H298.8L288.5 1296.2L278.2 1306.8H283.4Z" fill="url(#gAr)"/><path d="M427.6 1338.3H437.8V1306.3H443L432.7 1295.7L422.4 1306.3H427.6Z" fill="url(#gAr)"/><path d="M583.7 1338.3H593.9V1306.8H599.1L588.8 1296.2L578.5 1306.8H583.7Z" fill="url(#gAr)"/><path d="M755.9 1343.6H766.1V1311.2H771.3L761 1300.6L750.7 1311.2H755.9Z" fill="url(#gAr)"/><use href="#sci" transform="translate(257.3 986.3)"/><use href="#sci" transform="translate(402.9 985.2)"/><use href="#sci" transform="translate(562.8 985.2)"/><use href="#sci" transform="translate(723.9 985.2)"/><use href="#sci" transform="translate(235.5 1440.5) rotate(-76) scale(0.97)"/><use href="#sci" transform="translate(376.7 1448.5) rotate(-76) scale(1.0)"/><use href="#sci" transform="translate(533.8 1448.5) rotate(-76) scale(1.0)"/><use href="#sci" transform="translate(700.7 1447.1) rotate(-76) scale(1.0)"/>
<rect x="1432.3" y="952.6" width="672.9" height="71.2" fill="#b9f8b0"/><rect x="1430.6" y="1419.2" width="673.2" height="69.1" fill="#b9f8b0"/><path d="M2110.8 963.4L2299.4 1099.4H2697.3V1122.6H2299.4L2111.6 1026.3Z" fill="#6edfe9"/><path d="M2110.3 1423.4L2299.4 1324.4H2697.3V1351.5H2303.3L2110.3 1475.4Z" fill="#6edfe9"/><circle cx="1498" cy="970.1" r="10.6" fill="url(#gG)"/><circle cx="1498" cy="1012.4" r="10.6" fill="url(#gG)"/><circle cx="1576.5" cy="970.1" r="10.6" fill="url(#gG)"/><circle cx="1576.5" cy="1012.4" r="10.6" fill="url(#gG)"/><circle cx="1654" cy="970.1" r="10.6" fill="url(#gG)"/><circle cx="1654" cy="1012.4" r="10.6" fill="url(#gG)"/><circle cx="1731.1" cy="970.1" r="10.6" fill="url(#gG)"/><circle cx="1731.1" cy="1012.4" r="10.6" fill="url(#gG)"/><circle cx="1804.6" cy="970.1" r="10.6" fill="url(#gG)"/><circle cx="1804.6" cy="1012.4" r="10.6" fill="url(#gG)"/><circle cx="1883.8" cy="970.1" r="10.6" fill="url(#gG)"/><circle cx="1883.8" cy="1012.4" r="10.6" fill="url(#gG)"/><circle cx="1964.4" cy="970.1" r="10.6" fill="url(#gG)"/><circle cx="1964.4" cy="1012.4" r="10.6" fill="url(#gG)"/><circle cx="2044.3" cy="970.1" r="10.6" fill="url(#gG)"/><circle cx="2044.3" cy="1012.4" r="10.6" fill="url(#gG)"/><circle cx="1499.5" cy="1429.8" r="10.6" fill="url(#gG)"/><circle cx="1499.5" cy="1472.2" r="10.6" fill="url(#gG)"/><circle cx="1575.3" cy="1429.8" r="10.6" fill="url(#gG)"/><circle cx="1575.3" cy="1472.2" r="10.6" fill="url(#gG)"/><circle cx="1652.5" cy="1429.8" r="10.6" fill="url(#gG)"/><circle cx="1652.5" cy="1472.2" r="10.6" fill="url(#gG)"/><circle cx="1731.3" cy="1429.8" r="10.6" fill="url(#gG)"/><circle cx="1731.3" cy="1472.2" r="10.6" fill="url(#gG)"/><circle cx="1806.5" cy="1429.8" r="10.6" fill="url(#gG)"/><circle cx="1806.5" cy="1472.2" r="10.6" fill="url(#gG)"/><circle cx="1886.4" cy="1429.8" r="10.6" fill="url(#gG)"/><circle cx="1886.4" cy="1472.2" r="10.6" fill="url(#gG)"/><circle cx="1964.5" cy="1429.8" r="10.6" fill="url(#gG)"/><circle cx="1964.5" cy="1472.2" r="10.6" fill="url(#gG)"/><circle cx="2042.1" cy="1429.8" r="10.6" fill="url(#gG)"/><circle cx="2042.1" cy="1472.2" r="10.6" fill="url(#gG)"/><rect x="1437.2" y="1033.8" width="49.4" height="7.1" fill="#000"/><rect x="1511.1" y="1033.8" width="51.2" height="7.1" fill="#000"/><rect x="1589.7" y="1033.8" width="50.8" height="7.1" fill="#000"/><rect x="1667.2" y="1033.8" width="50.8" height="7.1" fill="#000"/><rect x="1741.6" y="1033.8" width="50.9" height="7.1" fill="#000"/><rect x="1818.6" y="1033.8" width="53.4" height="7.1" fill="#000"/><rect x="1899.2" y="1033.8" width="52.6" height="7.1" fill="#000"/><rect x="1978.9" y="1033.8" width="51.8" height="7.1" fill="#000"/><rect x="2058.7" y="1033.8" width="49.1" height="7.1" fill="#000"/><rect x="1438.9" y="1404.4" width="48.6" height="7.3" fill="#000"/><rect x="1512.4" y="1404.4" width="51.2" height="7.3" fill="#000"/><rect x="1588.5" y="1404.4" width="53.5" height="7.3" fill="#000"/><rect x="1667.2" y="1404.4" width="52.5" height="7.3" fill="#000"/><rect x="1743" y="1404.4" width="52.8" height="7.3" fill="#000"/><rect x="1820.4" y="1404.4" width="52.8" height="7.3" fill="#000"/><rect x="1898.8" y="1404.4" width="54.3" height="7.3" fill="#000"/><rect x="1978.8" y="1404.4" width="51.5" height="7.3" fill="#000"/><rect x="2055.2" y="1404.4" width="54" height="7.3" fill="#000"/><path d="M1485.7 947V1040.8M1512.9 947V1040.8M1562.3 947V1040.8M1591.4 947V1040.8M1639.5 949.6V1040.8M1668.6 949.6V1040.8M1715.4 947V1040.8M1744.3 947V1040.8M1791.2 949.6V1040.8M1819 949.6V1040.8M1871.1 947V1040.8M1899.2 947V1040.8M1951.4 947V1040.8M1979.3 947V1040.8M2030.1 949.6V1040.8M2058.2 949.6V1040.8M1486 1404.4V1498M1513.9 1404.4V1498M1561 1404.4V1498M1590 1404.4V1498M1640.5 1404.4V1498M1668.4 1404.4V1498M1717.8 1404.4V1498M1747.3 1404.4V1498M1794 1404.4V1498M1821.9 1404.4V1498M1871.3 1404.4V1498M1900.3 1404.4V1498M1951.1 1404.4V1498M1980.3 1404.4V1498M2028.4 1404.4V1498M2056.7 1404.4V1498" stroke="#2b65ad" stroke-width="3.6" fill="none"/><path d="M1456.8 1041.7C1458 1043.7 1460 1050.1 1463.8 1053.9C1467.6 1057.7 1472.9 1061.3 1479.6 1064.5C1486.3 1067.7 1496.8 1070.6 1504.1 1073.2C1511.4 1075.8 1519.3 1077.6 1523.4 1080.2C1527.5 1082.8 1528.7 1085.5 1528.7 1089C1528.7 1092.5 1526.6 1096.6 1523.4 1101.3C1520.2 1106 1512.9 1111.8 1509.4 1117C1505.9 1122.2 1502.7 1128.1 1502.4 1132.8C1502.1 1137.5 1503.8 1140.1 1507.6 1145.1C1511.4 1150.1 1516.7 1155.8 1525.2 1162.6C1533.7 1169.3 1553 1181.8 1558.5 1185.6M1544.5 1041.7C1546.5 1043.5 1551.2 1049 1556.7 1052.2C1562.2 1055.4 1568.5 1058.9 1577.8 1060.9C1587.1 1063 1599.7 1063.9 1612.8 1064.5C1625.9 1065.1 1644.9 1065.4 1656.6 1064.5C1668.3 1063.6 1677.4 1061.2 1682.9 1059.2C1688.5 1057.2 1688.6 1054.5 1689.9 1052.2C1691.2 1049.9 1690.7 1046.4 1690.8 1045.2M1700 1185.7C1698.3 1182.8 1692.8 1173 1689.9 1168C1687.1 1163 1687 1162 1682.9 1155.6C1678.8 1149.1 1671.5 1136.6 1665.4 1129.3C1659.3 1122 1653.4 1115.9 1646.1 1111.8C1638.8 1107.7 1630.1 1105.7 1621.6 1104.8C1613.1 1103.9 1602.6 1105 1595.3 1106.5C1588 1108 1581.9 1109.7 1577.8 1113.5C1573.7 1117.3 1571.4 1123.8 1570.7 1129.3C1570 1134.8 1571.6 1141.5 1573.4 1146.8C1575.2 1152.1 1577.1 1155.9 1581.3 1160.9C1585.5 1165.9 1592.7 1172.2 1598.8 1176.6C1604.9 1181 1614.9 1185.7 1618.1 1187.5M1747.8 1041.7C1748.1 1044.6 1749.5 1053.4 1749.5 1059.2C1749.5 1065 1749.5 1072 1747.8 1076.7C1746 1081.4 1743.1 1083.7 1739 1087.2C1734.9 1090.7 1726.4 1094.3 1723.2 1097.8C1720 1101.3 1719.4 1103.6 1719.7 1108.3C1720 1113 1722.4 1118.8 1725 1125.8C1727.6 1132.8 1732.3 1144.1 1735.5 1150.3C1738.7 1156.5 1740.5 1156.6 1744.3 1162.8C1748.1 1169 1756 1183.2 1758.3 1187.3M1869.4 1187.3C1864.1 1183.8 1846.3 1172.8 1837.8 1166.1C1829.3 1159.3 1822.8 1152.6 1818.6 1146.8C1814.4 1141 1811.8 1136.6 1812.4 1131.1C1813 1125.5 1818.4 1119 1822.1 1113.5C1825.8 1108 1832 1102.5 1834.3 1097.8C1836.6 1093.1 1837.8 1089 1836.1 1085.5C1834.3 1082 1830.2 1079.9 1823.8 1076.7C1817.4 1073.5 1804.8 1069.6 1797.5 1066.2C1790.2 1062.8 1785.2 1060.7 1780 1056.6C1774.8 1052.5 1768.5 1044.2 1766.2 1041.7M1853.6 1041.7C1855.9 1043.7 1861.2 1050.4 1867.6 1053.9C1874 1057.4 1882 1060.8 1892.2 1062.7C1902.4 1064.6 1915.6 1065.2 1929 1065.3C1942.4 1065.4 1962 1064.6 1972.8 1063.6C1983.6 1062.6 1989.4 1061.1 1993.8 1059.2C1998.2 1057.3 1998.2 1054.5 1999.1 1052.2C2000 1049.9 1999.1 1046.4 1999.1 1045.2M2011 1187.5C2009 1184.5 2002 1174.5 1999.1 1169.8C1996.2 1165.1 1997.6 1165.3 1993.8 1159.1C1990 1152.9 1982.4 1140.4 1976.3 1132.8C1970.2 1125.2 1964.6 1118.2 1957 1113.5C1949.4 1108.8 1939.8 1106 1930.7 1104.8C1921.7 1103.6 1910.3 1105 1902.7 1106.5C1895.1 1108 1889.2 1109.7 1885.2 1113.5C1881.2 1117.3 1879.6 1123.8 1879 1129.3C1878.4 1134.8 1879.5 1141.2 1881.7 1146.8C1883.9 1152.3 1887.5 1156.9 1892.2 1162.6C1896.9 1168.3 1904.2 1175.7 1909.7 1181C1915.2 1186.3 1922.9 1192.1 1925.5 1194.3M2056.1 1041.7C2056.4 1045.2 2058 1056.6 2057.8 1062.7C2057.7 1068.8 2057.1 1074.4 2055.2 1078.5C2053.3 1082.6 2050.2 1084.6 2046.4 1087.2C2042.6 1089.8 2035.5 1091 2032.4 1094.2C2029.3 1097.4 2028 1101.2 2028 1106.5C2028 1111.8 2029.9 1118.5 2032.4 1125.8C2034.9 1133.1 2039.4 1143.5 2042.9 1150.3C2046.4 1157 2049.3 1160.1 2053.4 1166.3C2057.5 1172.5 2065.2 1184.1 2067.5 1187.7M1466.5 1259.2C1468.4 1262.7 1473.3 1272.3 1477.8 1280.2C1482.3 1288.1 1489.2 1298.3 1493.6 1306.5C1498 1314.7 1502 1323.5 1504.1 1329.3C1506.1 1335.1 1507.1 1337.8 1505.9 1341.6C1504.7 1345.4 1500.6 1349.2 1497.1 1352.1C1493.6 1355 1488 1356.3 1484.9 1359.1C1481.8 1361.9 1479.9 1364.4 1478.5 1369C1477.1 1373.6 1476.5 1380.7 1476.7 1386.6C1476.9 1392.5 1479.3 1401.4 1479.8 1404.4M1618.1 1260.9C1621.6 1263.5 1633.5 1271.7 1639.1 1276.7C1644.6 1281.7 1648.5 1285.4 1651.4 1290.7C1654.3 1296 1656.3 1302.5 1656.6 1308.3C1656.9 1314.1 1655.1 1321.4 1653.1 1325.8C1651.1 1330.2 1648.8 1332.3 1644.4 1334.6C1640 1336.9 1633.2 1338.6 1626.8 1339.8C1620.4 1341 1612.2 1341.9 1605.8 1341.6C1599.4 1341.3 1593.8 1340.4 1588.3 1338.1C1582.8 1335.8 1577.8 1332.3 1572.5 1327.6C1567.2 1322.9 1562 1316.7 1556.7 1310C1551.4 1303.3 1546.2 1295.4 1540.9 1287.2C1535.7 1279 1527.8 1265 1525.2 1260.6M1784.6 1259.2C1786.6 1262.7 1792.5 1272 1796.9 1280.2C1801.3 1288.4 1806.9 1298.7 1810.9 1308.3C1815 1317.9 1820.2 1331.4 1821.2 1338.1C1822.2 1344.8 1820.2 1345.1 1816.8 1348.6C1813.4 1352.1 1804.8 1355.9 1801 1359.1C1797.2 1362.3 1795.6 1363.3 1794 1367.9C1792.4 1372.5 1791.6 1380.5 1791.6 1386.6C1791.6 1392.7 1793.6 1401.4 1794 1404.4M1666.3 1260.1C1670 1262.6 1681.3 1270.2 1688.2 1275C1695.1 1279.8 1702.2 1284.3 1707.5 1289C1712.8 1293.7 1717.1 1298.6 1719.7 1303C1722.3 1307.4 1723.8 1310.9 1723.2 1315.3C1722.6 1319.7 1719.4 1324.6 1716.2 1329.3C1713 1334 1707.1 1339.2 1704 1343.3C1700.9 1347.4 1698 1350.7 1697.5 1354C1697 1357.3 1698.2 1360.5 1701.1 1363.3C1704 1366.1 1708.8 1368.5 1715 1371.1C1721.2 1373.7 1731.8 1376 1738.3 1378.8C1744.8 1381.6 1749 1383.8 1753.9 1388.1C1758.8 1392.4 1765.5 1401.7 1767.8 1404.4M1535.7 1403.7C1536 1401.6 1535.8 1394.3 1537.2 1391.2C1538.6 1388.1 1539.2 1386.7 1544.2 1385C1549.2 1383.3 1555.8 1381.7 1567.5 1381.1C1579.2 1380.5 1601.1 1380.8 1614.1 1381.6C1627 1382.4 1636.7 1383.8 1645.2 1385.8C1653.7 1387.8 1659.3 1390.5 1665.3 1393.6C1671.2 1396.7 1678.3 1402.6 1680.9 1404.4M1934.3 1262.7C1937.8 1265.3 1949.8 1273.5 1955.3 1278.5C1960.8 1283.5 1965 1287.5 1967.6 1292.5C1970.2 1297.5 1971.1 1302.8 1971.1 1308.3C1971.1 1313.8 1969.9 1321.4 1967.6 1325.8C1965.2 1330.2 1962 1332.1 1957 1334.6C1952 1337.1 1943.9 1339.4 1937.8 1340.7C1931.7 1342 1926 1342.9 1920.2 1342.5C1914.4 1342.1 1908.2 1340.9 1902.7 1338.1C1897.2 1335.3 1892.2 1331.1 1886.9 1325.8C1881.6 1320.5 1876.3 1313.5 1871.1 1306.5C1865.8 1299.5 1860.7 1291.3 1855.4 1283.7C1850.2 1276.1 1842.2 1264.7 1839.6 1260.9M1981.6 1260.1C1985.1 1262.3 1995.9 1268.4 2002.6 1273.2C2009.3 1278 2016.6 1284 2021.9 1289C2027.2 1294 2031.4 1298.6 2034.2 1303C2037 1307.4 2038.8 1311.2 2038.5 1315.3C2038.2 1319.4 2035.5 1323.2 2032.4 1327.6C2029.3 1332 2023.3 1337.5 2020.1 1341.6C2016.8 1345.7 2013.8 1348.7 2012.9 1352C2012 1355.3 2011.9 1358.7 2014.5 1361.7C2017.1 1364.8 2022.2 1367.6 2028.4 1370.3C2034.6 1373 2045 1375 2051.7 1378C2058.4 1381 2063.8 1383.7 2068.8 1388.1C2073.9 1392.5 2079.8 1401.7 2082 1404.4M1850.7 1402.1C1850.9 1400.3 1850.3 1394 1851.7 1391.2C1853.1 1388.4 1854.3 1386.6 1859.2 1385C1864.1 1383.4 1869.5 1382.2 1880.9 1381.6C1892.3 1380.9 1914.5 1380.5 1927.5 1381.1C1940.5 1381.7 1949.8 1382.9 1958.6 1385C1967.4 1387.1 1974.2 1390.4 1980.3 1393.6C1986.4 1396.8 1992.6 1402.6 1995.1 1404.4" fill="none" stroke="#27477f" stroke-width="3.2" stroke-linecap="round" stroke-linejoin="round"/><path d="M1558.5 1185.6C1555.9 1184.8 1549.4 1182.2 1542.7 1181C1536 1179.8 1524.6 1178 1518.2 1178.7C1511.8 1179.5 1507.9 1182.6 1504.1 1185.5C1500.3 1188.4 1498 1193.9 1495.4 1196.1C1492.8 1198.3 1491.6 1199 1488.4 1198.7C1485.2 1198.4 1480.8 1196.5 1476.1 1194.3C1471.4 1192.1 1462.9 1187 1460.3 1185.6M1618.1 1187.5C1620.1 1188.3 1626.8 1192.3 1630.3 1192.6C1633.8 1192.9 1636.2 1191.4 1639.1 1189.1C1642 1186.8 1644.1 1181.1 1647.9 1178.6C1651.7 1176.1 1656.7 1174.7 1661.9 1174.2C1667.2 1173.8 1673.9 1174.7 1679.4 1175.9C1685 1177.1 1691.8 1179.6 1695.2 1181.2C1698.6 1182.8 1699.2 1185 1700 1185.7M1758.3 1187.3C1760.9 1188.8 1769.1 1193.8 1774.1 1196.1C1779.1 1198.4 1783.7 1200.9 1788.1 1201.3C1792.5 1201.7 1795.9 1201.6 1800.4 1198.7C1804.9 1195.8 1810.3 1186.8 1815.1 1183.8C1819.9 1180.8 1823.3 1180.8 1829.1 1180.7C1834.9 1180.6 1843.4 1181.8 1850.1 1182.9C1856.8 1184 1866.2 1186.6 1869.4 1187.3M1925.5 1194.3C1927.5 1195.5 1934.3 1200.5 1937.8 1201.4C1941.3 1202.3 1943.9 1201.6 1946.5 1199.6C1949.1 1197.5 1951.2 1192.9 1953.5 1189.1C1955.8 1185.3 1957.6 1179.3 1960.5 1176.8C1963.4 1174.3 1966.1 1173.9 1971.1 1174.2C1976.1 1174.5 1983.6 1176.4 1990.3 1178.6C1997 1180.8 2007.5 1186 2011 1187.5M1525.2 1260.6C1528.1 1261.5 1536.6 1264.5 1542.7 1266.2C1548.8 1267.9 1557 1270.6 1562 1270.6C1567 1270.6 1569.6 1269 1572.5 1266.2C1575.4 1263.4 1576.9 1257.1 1579.5 1253.9C1582.1 1250.7 1584.5 1247.5 1588.3 1246.9C1592.1 1246.3 1597.3 1248.1 1602.3 1250.4C1607.3 1252.7 1615.5 1259.2 1618.1 1260.9M1666.3 1260.1C1669.1 1261 1676 1263.7 1682.9 1265.3C1689.8 1266.9 1701.1 1269.8 1707.5 1269.7C1713.9 1269.6 1717.4 1267.4 1721.5 1264.5C1725.6 1261.6 1728.5 1255.4 1732 1252.2C1735.5 1249 1738.4 1246.1 1742.5 1245.2C1746.6 1244.3 1749.5 1244.6 1756.5 1246.9C1763.5 1249.2 1779.9 1257.2 1784.6 1259.2M1839.6 1260.9C1842.5 1261.9 1850.7 1265.3 1857.1 1267.1C1863.5 1268.9 1872.9 1271.3 1878.2 1271.5C1883.5 1271.7 1885.8 1270.3 1888.7 1268C1891.6 1265.7 1893.1 1260.6 1895.7 1257.4C1898.3 1254.2 1901 1249.9 1904.5 1248.7C1908 1247.5 1911.7 1248.1 1916.7 1250.4C1921.7 1252.7 1931.4 1260.7 1934.3 1262.7" fill="none" stroke="#2e6da9" stroke-width="3.2" stroke-linecap="round" stroke-linejoin="round"/><circle cx="1531.8" cy="1063.6" r="10.8" fill="url(#gG)"/><circle cx="1615.4" cy="1085.1" r="10.8" fill="url(#gG)"/><circle cx="1715" cy="1060.6" r="10.8" fill="url(#gG)"/><circle cx="1670.3" cy="1103.9" r="10.8" fill="url(#gG)"/><circle cx="1539.2" cy="1128.4" r="10.8" fill="url(#gG)"/><circle cx="1709.7" cy="1147.7" r="10.8" fill="url(#gG)"/><circle cx="1562.5" cy="1167.9" r="10.8" fill="url(#gG)"/><circle cx="1843.1" cy="1068.3" r="10.8" fill="url(#gG)"/><circle cx="1920.2" cy="1083.7" r="10.8" fill="url(#gG)"/><circle cx="1979.3" cy="1098.1" r="10.8" fill="url(#gG)"/><circle cx="1848.4" cy="1129" r="10.8" fill="url(#gG)"/><circle cx="2014.9" cy="1146.5" r="10.8" fill="url(#gG)"/><circle cx="1867.6" cy="1167" r="10.8" fill="url(#gG)"/><circle cx="1513.8" cy="1283.4" r="10.8" fill="url(#gG)"/><circle cx="1669.8" cy="1283.4" r="10.8" fill="url(#gG)"/><circle cx="1694.3" cy="1319.1" r="10.8" fill="url(#gG)"/><circle cx="1549.7" cy="1352.6" r="10.8" fill="url(#gG)"/><circle cx="1630.9" cy="1365.8" r="10.8" fill="url(#gG)"/><circle cx="1505.5" cy="1384" r="10.8" fill="url(#gG)"/><circle cx="1701" cy="1385.6" r="10.8" fill="url(#gG)"/><circle cx="1827" cy="1279.9" r="10.8" fill="url(#gG)"/><circle cx="1976" cy="1279.9" r="10.8" fill="url(#gG)"/><circle cx="2011.7" cy="1316.2" r="10.8" fill="url(#gG)"/><circle cx="1863.3" cy="1349.1" r="10.8" fill="url(#gG)"/><circle cx="1943.9" cy="1362.3" r="10.8" fill="url(#gG)"/><circle cx="1818.6" cy="1381" r="10.8" fill="url(#gG)"/><circle cx="2014.1" cy="1382.3" r="10.8" fill="url(#gG)"/><circle cx="1476.4" cy="1225" r="10.8" fill="url(#gG)"/><circle cx="1550.6" cy="1225" r="10.8" fill="url(#gG)"/><circle cx="1625.1" cy="1225" r="10.8" fill="url(#gG)"/><circle cx="1699.2" cy="1225" r="10.8" fill="url(#gG)"/><circle cx="1774.4" cy="1225" r="10.8" fill="url(#gG)"/><circle cx="1848.7" cy="1225" r="10.8" fill="url(#gG)"/><circle cx="1923.7" cy="1225" r="10.8" fill="url(#gG)"/><circle cx="1999.6" cy="1225" r="10.8" fill="url(#gG)"/><circle cx="2075.9" cy="1225" r="10.8" fill="url(#gG)"/><circle cx="2020.1" cy="1059.2" r="10" fill="#12a55c" stroke="#0e7f55" stroke-width="2"/><path d="M1559.9 1073.2L1570.2 1083.8H1565V1111.7H1570.2L1559.9 1122.3L1549.6 1111.7H1554.8V1083.8H1549.6Z" fill="url(#gAr)"/><path d="M1699.6 1075.8L1709.9 1086.4H1704.7V1113.8H1709.9L1699.6 1124.4L1689.3 1113.8H1694.5V1086.4H1689.3Z" fill="url(#gAr)"/><path d="M1870.3 1068.8L1880.6 1079.4H1875.4V1106.4H1880.6L1870.3 1117L1860 1106.4H1865.2V1079.4H1860Z" fill="url(#gAr)"/><path d="M2007.9 1070.6L2018.2 1081.2H2013V1107.3H2018.2L2007.9 1117.9L1997.6 1107.3H2002.8V1081.2H1997.6Z" fill="url(#gAr)"/><path d="M1524.8 1323.2L1535.1 1333.8H1529.9V1360.4H1535.1L1524.8 1371L1514.5 1360.4H1519.7V1333.8H1514.5Z" fill="url(#gAr)"/><path d="M1668.6 1326.7L1678.9 1337.3H1673.7V1363.4H1678.9L1668.6 1374L1658.3 1363.4H1663.5V1337.3H1658.3Z" fill="url(#gAr)"/><path d="M1836.4 1316.2L1846.7 1326.8H1841.5V1354.4H1846.7L1836.4 1365L1826.1 1354.4H1831.3V1326.8H1826.1Z" fill="url(#gAr)"/><path d="M1985.1 1316.2L1995.4 1326.8H1990.2V1354H1995.4L1985.1 1364.6L1974.8 1354H1980V1326.8H1974.8Z" fill="url(#gAr)"/>
</svg>
</body></html>
